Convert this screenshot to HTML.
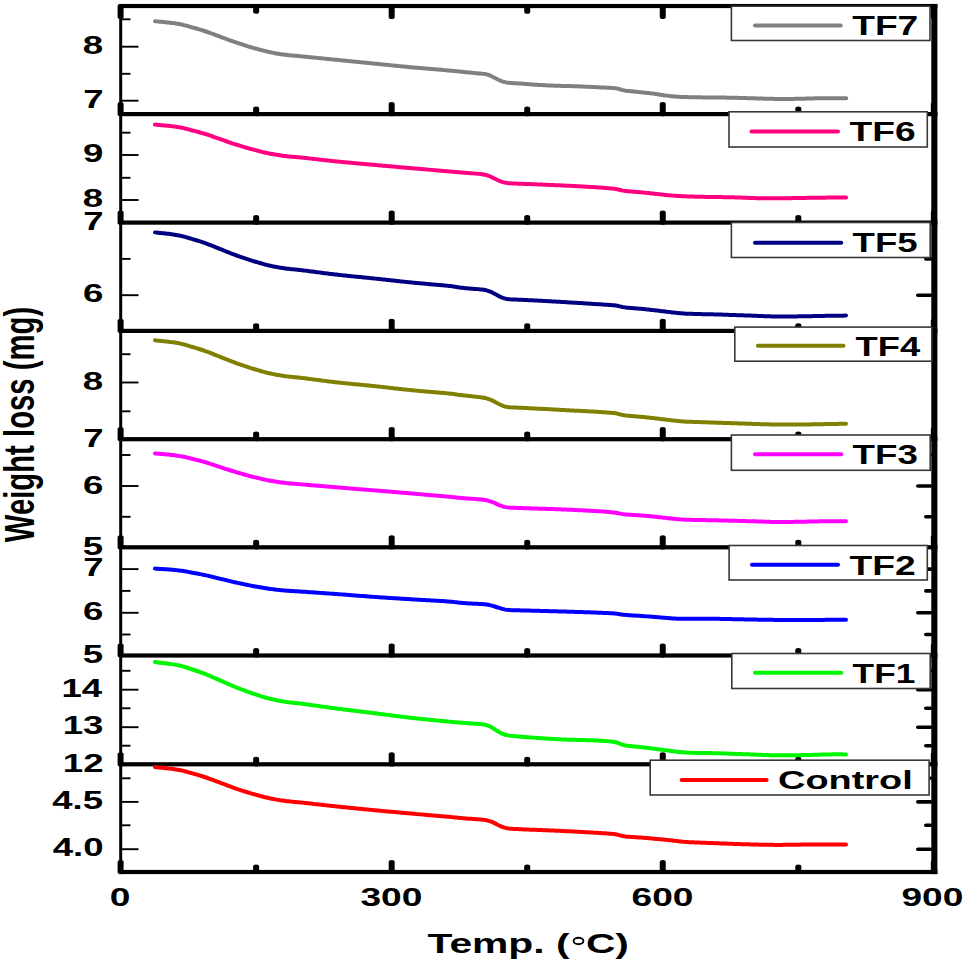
<!DOCTYPE html>
<html><head><meta charset="utf-8"><style>
html,body{margin:0;padding:0;background:#fff;}
svg{display:block;}
text{font-family:'Liberation Sans',sans-serif;font-weight:bold;}
</style></head><body>
<svg width="968" height="963" viewBox="0 0 968 963">
<rect width="968" height="963" fill="#fff"/>
<rect x="119.2" y="3.95" width="818.1999999999999" height="4.1499999999999995" fill="#000"/>
<rect x="119.2" y="112.00" width="818.1999999999999" height="4.2" fill="#000"/>
<rect x="119.2" y="220.50" width="818.1999999999999" height="4.2" fill="#000"/>
<rect x="119.2" y="328.80" width="818.1999999999999" height="4.2" fill="#000"/>
<rect x="119.2" y="437.10" width="818.1999999999999" height="4.2" fill="#000"/>
<rect x="119.2" y="545.20" width="818.1999999999999" height="4.2" fill="#000"/>
<rect x="119.2" y="653.40" width="818.1999999999999" height="4.2" fill="#000"/>
<rect x="119.2" y="762.20" width="818.1999999999999" height="4.2" fill="#000"/>
<rect x="119.2" y="869.90" width="818.1999999999999" height="4.2" fill="#000"/>
<rect x="119.2" y="3.95" width="3.0" height="870.15" fill="#000"/>
<rect x="931.3" y="3.95" width="6.100000000000023" height="870.15" fill="#000"/>
<rect x="117.60" y="3.95" width="6.0" height="15.15" rx="3" ry="2" fill="#000"/>
<rect x="117.60" y="102.00" width="6.0" height="14.20" rx="3" ry="2" fill="#000"/>
<rect x="117.60" y="210.50" width="6.0" height="14.20" rx="3" ry="2" fill="#000"/>
<rect x="117.60" y="318.80" width="6.0" height="14.20" rx="3" ry="2" fill="#000"/>
<rect x="117.60" y="427.10" width="6.0" height="14.20" rx="3" ry="2" fill="#000"/>
<rect x="117.60" y="535.20" width="6.0" height="14.20" rx="3" ry="2" fill="#000"/>
<rect x="117.60" y="643.40" width="6.0" height="14.20" rx="3" ry="2" fill="#000"/>
<rect x="117.60" y="752.20" width="6.0" height="14.20" rx="3" ry="2" fill="#000"/>
<rect x="117.60" y="859.90" width="6.0" height="14.20" rx="3" ry="2" fill="#000"/>
<rect x="253.14" y="3.95" width="6.0" height="9.75" rx="3" ry="2" fill="#000"/>
<rect x="253.14" y="106.50" width="6.0" height="9.70" rx="3" ry="2" fill="#000"/>
<rect x="253.14" y="215.00" width="6.0" height="9.70" rx="3" ry="2" fill="#000"/>
<rect x="253.14" y="323.30" width="6.0" height="9.70" rx="3" ry="2" fill="#000"/>
<rect x="253.14" y="431.60" width="6.0" height="9.70" rx="3" ry="2" fill="#000"/>
<rect x="253.14" y="539.70" width="6.0" height="9.70" rx="3" ry="2" fill="#000"/>
<rect x="253.14" y="647.90" width="6.0" height="9.70" rx="3" ry="2" fill="#000"/>
<rect x="253.14" y="756.70" width="6.0" height="9.70" rx="3" ry="2" fill="#000"/>
<rect x="253.14" y="864.40" width="6.0" height="9.70" rx="3" ry="2" fill="#000"/>
<rect x="388.68" y="3.95" width="6.0" height="15.15" rx="3" ry="2" fill="#000"/>
<rect x="388.68" y="102.00" width="6.0" height="14.20" rx="3" ry="2" fill="#000"/>
<rect x="388.68" y="210.50" width="6.0" height="14.20" rx="3" ry="2" fill="#000"/>
<rect x="388.68" y="318.80" width="6.0" height="14.20" rx="3" ry="2" fill="#000"/>
<rect x="388.68" y="427.10" width="6.0" height="14.20" rx="3" ry="2" fill="#000"/>
<rect x="388.68" y="535.20" width="6.0" height="14.20" rx="3" ry="2" fill="#000"/>
<rect x="388.68" y="643.40" width="6.0" height="14.20" rx="3" ry="2" fill="#000"/>
<rect x="388.68" y="752.20" width="6.0" height="14.20" rx="3" ry="2" fill="#000"/>
<rect x="388.68" y="859.90" width="6.0" height="14.20" rx="3" ry="2" fill="#000"/>
<rect x="524.22" y="3.95" width="6.0" height="9.75" rx="3" ry="2" fill="#000"/>
<rect x="524.22" y="106.50" width="6.0" height="9.70" rx="3" ry="2" fill="#000"/>
<rect x="524.22" y="215.00" width="6.0" height="9.70" rx="3" ry="2" fill="#000"/>
<rect x="524.22" y="323.30" width="6.0" height="9.70" rx="3" ry="2" fill="#000"/>
<rect x="524.22" y="431.60" width="6.0" height="9.70" rx="3" ry="2" fill="#000"/>
<rect x="524.22" y="539.70" width="6.0" height="9.70" rx="3" ry="2" fill="#000"/>
<rect x="524.22" y="647.90" width="6.0" height="9.70" rx="3" ry="2" fill="#000"/>
<rect x="524.22" y="756.70" width="6.0" height="9.70" rx="3" ry="2" fill="#000"/>
<rect x="524.22" y="864.40" width="6.0" height="9.70" rx="3" ry="2" fill="#000"/>
<rect x="659.76" y="3.95" width="6.0" height="15.15" rx="3" ry="2" fill="#000"/>
<rect x="659.76" y="102.00" width="6.0" height="14.20" rx="3" ry="2" fill="#000"/>
<rect x="659.76" y="210.50" width="6.0" height="14.20" rx="3" ry="2" fill="#000"/>
<rect x="659.76" y="318.80" width="6.0" height="14.20" rx="3" ry="2" fill="#000"/>
<rect x="659.76" y="427.10" width="6.0" height="14.20" rx="3" ry="2" fill="#000"/>
<rect x="659.76" y="535.20" width="6.0" height="14.20" rx="3" ry="2" fill="#000"/>
<rect x="659.76" y="643.40" width="6.0" height="14.20" rx="3" ry="2" fill="#000"/>
<rect x="659.76" y="752.20" width="6.0" height="14.20" rx="3" ry="2" fill="#000"/>
<rect x="659.76" y="859.90" width="6.0" height="14.20" rx="3" ry="2" fill="#000"/>
<rect x="795.30" y="3.95" width="6.0" height="9.75" rx="3" ry="2" fill="#000"/>
<rect x="795.30" y="106.50" width="6.0" height="9.70" rx="3" ry="2" fill="#000"/>
<rect x="795.30" y="215.00" width="6.0" height="9.70" rx="3" ry="2" fill="#000"/>
<rect x="795.30" y="323.30" width="6.0" height="9.70" rx="3" ry="2" fill="#000"/>
<rect x="795.30" y="431.60" width="6.0" height="9.70" rx="3" ry="2" fill="#000"/>
<rect x="795.30" y="539.70" width="6.0" height="9.70" rx="3" ry="2" fill="#000"/>
<rect x="795.30" y="647.90" width="6.0" height="9.70" rx="3" ry="2" fill="#000"/>
<rect x="795.30" y="756.70" width="6.0" height="9.70" rx="3" ry="2" fill="#000"/>
<rect x="795.30" y="864.40" width="6.0" height="9.70" rx="3" ry="2" fill="#000"/>
<rect x="930.84" y="3.95" width="6.0" height="15.15" rx="3" ry="2" fill="#000"/>
<rect x="930.84" y="102.00" width="6.0" height="14.20" rx="3" ry="2" fill="#000"/>
<rect x="930.84" y="210.50" width="6.0" height="14.20" rx="3" ry="2" fill="#000"/>
<rect x="930.84" y="318.80" width="6.0" height="14.20" rx="3" ry="2" fill="#000"/>
<rect x="930.84" y="427.10" width="6.0" height="14.20" rx="3" ry="2" fill="#000"/>
<rect x="930.84" y="535.20" width="6.0" height="14.20" rx="3" ry="2" fill="#000"/>
<rect x="930.84" y="643.40" width="6.0" height="14.20" rx="3" ry="2" fill="#000"/>
<rect x="930.84" y="752.20" width="6.0" height="14.20" rx="3" ry="2" fill="#000"/>
<rect x="930.84" y="859.90" width="6.0" height="14.20" rx="3" ry="2" fill="#000"/>
<rect x="121.7" y="18.35" width="8.80" height="1.9" fill="#000"/>
<rect x="121.7" y="45.75" width="16.80" height="1.9" fill="#000"/>
<rect x="121.7" y="72.85" width="8.80" height="1.9" fill="#000"/>
<rect x="121.7" y="99.75" width="16.80" height="1.9" fill="#000"/>
<rect x="121.7" y="131.75" width="8.80" height="1.9" fill="#000"/>
<rect x="121.7" y="154.05" width="16.80" height="1.9" fill="#000"/>
<rect x="121.7" y="176.85" width="8.80" height="1.9" fill="#000"/>
<rect x="121.7" y="199.05" width="16.80" height="1.9" fill="#000"/>
<rect x="121.7" y="257.95" width="8.80" height="1.9" fill="#000"/>
<rect x="924.00" y="257.10" width="8.30" height="3.6" rx="1.8" fill="#000"/>
<rect x="121.7" y="294.25" width="16.80" height="1.9" fill="#000"/>
<rect x="916.00" y="293.40" width="16.30" height="3.6" rx="1.8" fill="#000"/>
<rect x="121.7" y="353.25" width="8.80" height="1.9" fill="#000"/>
<rect x="121.7" y="381.55" width="16.80" height="1.9" fill="#000"/>
<rect x="121.7" y="410.35" width="8.80" height="1.9" fill="#000"/>
<rect x="121.7" y="454.05" width="8.80" height="1.9" fill="#000"/>
<rect x="924.00" y="453.20" width="8.30" height="3.6" rx="1.8" fill="#000"/>
<rect x="121.7" y="485.05" width="16.80" height="1.9" fill="#000"/>
<rect x="916.00" y="484.20" width="16.30" height="3.6" rx="1.8" fill="#000"/>
<rect x="121.7" y="515.85" width="8.80" height="1.9" fill="#000"/>
<rect x="924.00" y="515.00" width="8.30" height="3.6" rx="1.8" fill="#000"/>
<rect x="121.7" y="568.15" width="16.80" height="1.9" fill="#000"/>
<rect x="916.00" y="567.30" width="16.30" height="3.6" rx="1.8" fill="#000"/>
<rect x="121.7" y="589.95" width="8.80" height="1.9" fill="#000"/>
<rect x="924.00" y="589.10" width="8.30" height="3.6" rx="1.8" fill="#000"/>
<rect x="121.7" y="611.85" width="16.80" height="1.9" fill="#000"/>
<rect x="916.00" y="611.00" width="16.30" height="3.6" rx="1.8" fill="#000"/>
<rect x="121.7" y="633.55" width="8.80" height="1.9" fill="#000"/>
<rect x="924.00" y="632.70" width="8.30" height="3.6" rx="1.8" fill="#000"/>
<rect x="121.7" y="669.85" width="8.80" height="1.9" fill="#000"/>
<rect x="924.00" y="669.00" width="8.30" height="3.6" rx="1.8" fill="#000"/>
<rect x="121.7" y="688.75" width="16.80" height="1.9" fill="#000"/>
<rect x="916.00" y="687.90" width="16.30" height="3.6" rx="1.8" fill="#000"/>
<rect x="121.7" y="707.35" width="8.80" height="1.9" fill="#000"/>
<rect x="924.00" y="706.50" width="8.30" height="3.6" rx="1.8" fill="#000"/>
<rect x="121.7" y="726.25" width="16.80" height="1.9" fill="#000"/>
<rect x="916.00" y="725.40" width="16.30" height="3.6" rx="1.8" fill="#000"/>
<rect x="121.7" y="744.75" width="8.80" height="1.9" fill="#000"/>
<rect x="924.00" y="743.90" width="8.30" height="3.6" rx="1.8" fill="#000"/>
<rect x="121.7" y="777.35" width="8.80" height="1.9" fill="#000"/>
<rect x="924.00" y="776.50" width="8.30" height="3.6" rx="1.8" fill="#000"/>
<rect x="121.7" y="800.95" width="16.80" height="1.9" fill="#000"/>
<rect x="916.00" y="800.10" width="16.30" height="3.6" rx="1.8" fill="#000"/>
<rect x="121.7" y="824.35" width="8.80" height="1.9" fill="#000"/>
<rect x="924.00" y="823.50" width="8.30" height="3.6" rx="1.8" fill="#000"/>
<rect x="121.7" y="848.25" width="16.80" height="1.9" fill="#000"/>
<rect x="916.00" y="847.40" width="16.30" height="3.6" rx="1.8" fill="#000"/>
<text transform="translate(82.80,54.00) scale(1.3800,1)" font-size="26.5" style="font-family:'Liberation Sans',sans-serif;font-weight:bold">8</text>
<text transform="translate(83.28,108.30) scale(1.3800,1)" font-size="26.5" style="font-family:'Liberation Sans',sans-serif;font-weight:bold">7</text>
<text transform="translate(83.02,162.20) scale(1.3800,1)" font-size="26.5" style="font-family:'Liberation Sans',sans-serif;font-weight:bold">9</text>
<text transform="translate(82.80,207.00) scale(1.3800,1)" font-size="26.5" style="font-family:'Liberation Sans',sans-serif;font-weight:bold">8</text>
<text transform="translate(83.28,230.40) scale(1.3800,1)" font-size="26.5" style="font-family:'Liberation Sans',sans-serif;font-weight:bold">7</text>
<text transform="translate(82.98,302.30) scale(1.3800,1)" font-size="26.5" style="font-family:'Liberation Sans',sans-serif;font-weight:bold">6</text>
<text transform="translate(82.80,390.30) scale(1.3800,1)" font-size="26.5" style="font-family:'Liberation Sans',sans-serif;font-weight:bold">8</text>
<text transform="translate(83.28,446.50) scale(1.3800,1)" font-size="26.5" style="font-family:'Liberation Sans',sans-serif;font-weight:bold">7</text>
<text transform="translate(82.98,493.80) scale(1.3800,1)" font-size="26.5" style="font-family:'Liberation Sans',sans-serif;font-weight:bold">6</text>
<text transform="translate(82.69,555.20) scale(1.3800,1)" font-size="26.5" style="font-family:'Liberation Sans',sans-serif;font-weight:bold">5</text>
<text transform="translate(83.28,576.30) scale(1.3800,1)" font-size="26.5" style="font-family:'Liberation Sans',sans-serif;font-weight:bold">7</text>
<text transform="translate(82.98,619.80) scale(1.3800,1)" font-size="26.5" style="font-family:'Liberation Sans',sans-serif;font-weight:bold">6</text>
<text transform="translate(82.69,663.40) scale(1.3800,1)" font-size="26.5" style="font-family:'Liberation Sans',sans-serif;font-weight:bold">5</text>
<text transform="translate(61.52,696.70) scale(1.3800,1)" font-size="26.5" style="font-family:'Liberation Sans',sans-serif;font-weight:bold">14</text>
<text transform="translate(62.65,733.60) scale(1.3800,1)" font-size="26.5" style="font-family:'Liberation Sans',sans-serif;font-weight:bold">13</text>
<text transform="translate(62.80,771.60) scale(1.3800,1)" font-size="26.5" style="font-family:'Liberation Sans',sans-serif;font-weight:bold">12</text>
<text transform="translate(52.19,809.40) scale(1.3800,1)" font-size="26.5" style="font-family:'Liberation Sans',sans-serif;font-weight:bold">4.5</text>
<text transform="translate(52.67,855.90) scale(1.3800,1)" font-size="26.5" style="font-family:'Liberation Sans',sans-serif;font-weight:bold">4.0</text>
<text transform="translate(109.70,906.00) scale(1.4000,1)" font-size="26.5" style="font-family:'Liberation Sans',sans-serif;font-weight:bold">0</text>
<text transform="translate(360.39,906.00) scale(1.4000,1)" font-size="26.5" style="font-family:'Liberation Sans',sans-serif;font-weight:bold">300</text>
<text transform="translate(631.53,906.00) scale(1.4000,1)" font-size="26.5" style="font-family:'Liberation Sans',sans-serif;font-weight:bold">600</text>
<text transform="translate(901.47,906.00) scale(1.4000,1)" font-size="26.5" style="font-family:'Liberation Sans',sans-serif;font-weight:bold">900</text>
<text transform="translate(427.55,952.70) scale(1.5107,1)" font-size="27.0" fill="#000" style="font-family:'Liberation Sans',sans-serif;font-weight:bold">Temp. (</text>
<text transform="translate(585.93,952.70) scale(1.5099,1)" font-size="27.0" fill="#000" style="font-family:'Liberation Sans',sans-serif;font-weight:bold">C)</text>
<ellipse cx="578.5" cy="941.0" rx="4.9" ry="3.2" fill="none" stroke="#000" stroke-width="1.9"/>
<text transform="translate(34.30,542.23) rotate(-90) scale(1.0281,1.4943)" font-size="28.5" style="font-family:'Liberation Sans',sans-serif;font-weight:bold">Weight loss (mg)</text>
<path d="M155.0,21.19 L156.5,21.37 L158.0,21.53 L159.5,21.68 L161.0,21.82 L162.5,21.96 L164.0,22.09 L165.5,22.23 L167.0,22.39 L168.5,22.55 L170.0,22.72 L171.5,22.91 L173.0,23.10 L174.5,23.32 L176.0,23.54 L177.5,23.79 L179.0,24.05 L180.5,24.33 L182.0,24.64 L183.5,24.99 L185.0,25.36 L186.5,25.77 L188.0,26.19 L189.5,26.62 L191.0,27.05 L192.5,27.47 L194.0,27.88 L195.5,28.30 L197.0,28.72 L198.5,29.14 L200.0,29.58 L201.5,30.04 L203.0,30.51 L204.5,30.99 L206.0,31.49 L207.5,32.00 L209.0,32.53 L210.5,33.08 L212.0,33.63 L213.5,34.20 L215.0,34.77 L216.5,35.33 L218.0,35.89 L219.5,36.45 L221.0,37.01 L222.5,37.57 L224.0,38.13 L225.5,38.69 L227.0,39.25 L228.5,39.81 L230.0,40.36 L231.5,40.91 L233.0,41.44 L234.5,41.96 L236.0,42.47 L237.5,42.96 L239.0,43.46 L240.5,43.94 L242.0,44.44 L243.5,44.93 L245.0,45.42 L246.5,45.90 L248.0,46.37 L249.5,46.83 L251.0,47.27 L252.5,47.69 L254.0,48.09 L255.5,48.50 L257.0,48.90 L258.5,49.31 L260.0,49.72 L261.5,50.14 L263.0,50.54 L264.5,50.94 L266.0,51.31 L267.5,51.65 L269.0,51.98 L270.5,52.29 L272.0,52.59 L273.5,52.88 L275.0,53.16 L276.5,53.44 L278.0,53.71 L279.5,53.96 L281.0,54.18 L282.5,54.40 L284.0,54.60 L285.5,54.79 L287.0,54.97 L288.5,55.15 L290.0,55.31 L291.5,55.45 L293.0,55.58 L294.5,55.71 L296.0,55.84 L297.5,55.97 L299.0,56.11 L300.5,56.25 L302.0,56.40 L303.5,56.54 L305.0,56.69 L306.5,56.84 L308.0,56.99 L309.5,57.14 L311.0,57.29 L312.5,57.43 L314.0,57.58 L315.5,57.73 L317.0,57.88 L318.5,58.03 L320.0,58.18 L321.5,58.33 L323.0,58.48 L324.5,58.63 L326.0,58.78 L327.5,58.93 L329.0,59.08 L330.5,59.23 L332.0,59.38 L333.5,59.53 L335.0,59.68 L336.5,59.83 L338.0,59.98 L339.5,60.13 L341.0,60.28 L342.5,60.43 L344.0,60.58 L345.5,60.73 L347.0,60.87 L348.5,61.02 L350.0,61.17 L351.5,61.32 L353.0,61.47 L354.5,61.62 L356.0,61.77 L357.5,61.92 L359.0,62.07 L360.5,62.22 L362.0,62.37 L363.5,62.52 L365.0,62.67 L366.5,62.81 L368.0,62.96 L369.5,63.11 L371.0,63.26 L372.5,63.41 L374.0,63.56 L375.5,63.71 L377.0,63.86 L378.5,64.01 L380.0,64.16 L381.5,64.31 L383.0,64.47 L384.5,64.62 L386.0,64.77 L387.5,64.92 L389.0,65.08 L390.5,65.23 L392.0,65.38 L393.5,65.53 L395.0,65.68 L396.5,65.83 L398.0,65.98 L399.5,66.13 L401.0,66.28 L402.5,66.43 L404.0,66.57 L405.5,66.72 L407.0,66.86 L408.5,67.01 L410.0,67.15 L411.5,67.29 L413.0,67.43 L414.5,67.56 L416.0,67.70 L417.5,67.83 L419.0,67.96 L420.5,68.09 L422.0,68.22 L423.5,68.35 L425.0,68.48 L426.5,68.60 L428.0,68.73 L429.5,68.86 L431.0,68.98 L432.5,69.11 L434.0,69.23 L435.5,69.36 L437.0,69.48 L438.5,69.61 L440.0,69.74 L441.5,69.86 L443.0,69.99 L444.5,70.12 L446.0,70.25 L447.5,70.39 L449.0,70.52 L450.5,70.66 L452.0,70.80 L453.5,70.94 L455.0,71.09 L456.5,71.23 L458.0,71.38 L459.5,71.53 L461.0,71.69 L462.5,71.84 L464.0,71.99 L465.5,72.15 L467.0,72.30 L468.5,72.45 L470.0,72.59 L471.5,72.74 L473.0,72.87 L474.5,73.01 L476.0,73.14 L477.5,73.27 L479.0,73.41 L480.5,73.55 L482.0,73.70 L483.5,73.87 L485.0,74.08 L486.5,74.37 L488.0,74.76 L489.5,75.29 L491.0,75.94 L492.5,76.68 L494.0,77.47 L495.5,78.26 L497.0,79.04 L498.5,79.78 L500.0,80.47 L501.5,81.08 L503.0,81.60 L504.5,82.04 L506.0,82.38 L507.5,82.65 L509.0,82.83 L510.5,82.97 L512.0,83.08 L513.5,83.17 L515.0,83.25 L516.5,83.34 L518.0,83.42 L519.5,83.51 L521.0,83.61 L522.5,83.71 L524.0,83.82 L525.5,83.95 L527.0,84.07 L528.5,84.21 L530.0,84.34 L531.5,84.47 L533.0,84.58 L534.5,84.69 L536.0,84.79 L537.5,84.87 L539.0,84.95 L540.5,85.02 L542.0,85.10 L543.5,85.17 L545.0,85.24 L546.5,85.32 L548.0,85.38 L549.5,85.45 L551.0,85.52 L552.5,85.58 L554.0,85.63 L555.5,85.69 L557.0,85.74 L558.5,85.79 L560.0,85.83 L561.5,85.88 L563.0,85.92 L564.5,85.96 L566.0,86.00 L567.5,86.04 L569.0,86.08 L570.5,86.12 L572.0,86.16 L573.5,86.20 L575.0,86.25 L576.5,86.29 L578.0,86.34 L579.5,86.39 L581.0,86.44 L582.5,86.50 L584.0,86.57 L585.5,86.64 L587.0,86.71 L588.5,86.79 L590.0,86.87 L591.5,86.95 L593.0,87.02 L594.5,87.10 L596.0,87.17 L597.5,87.24 L599.0,87.31 L600.5,87.38 L602.0,87.45 L603.5,87.53 L605.0,87.61 L606.5,87.68 L608.0,87.75 L609.5,87.82 L611.0,87.90 L612.5,88.00 L614.0,88.12 L615.5,88.28 L617.0,88.53 L618.5,88.86 L620.0,89.29 L621.5,89.75 L623.0,90.17 L624.5,90.51 L626.0,90.75 L627.5,90.92 L629.0,91.07 L630.5,91.21 L632.0,91.35 L633.5,91.50 L635.0,91.66 L636.5,91.82 L638.0,91.97 L639.5,92.13 L641.0,92.29 L642.5,92.45 L644.0,92.61 L645.5,92.77 L647.0,92.94 L648.5,93.10 L650.0,93.27 L651.5,93.45 L653.0,93.64 L654.5,93.84 L656.0,94.05 L657.5,94.27 L659.0,94.51 L660.5,94.75 L662.0,94.99 L663.5,95.22 L665.0,95.44 L666.5,95.64 L668.0,95.82 L669.5,95.99 L671.0,96.14 L672.5,96.28 L674.0,96.41 L675.5,96.53 L677.0,96.64 L678.5,96.74 L680.0,96.83 L681.5,96.90 L683.0,96.97 L684.5,97.02 L686.0,97.07 L687.5,97.11 L689.0,97.14 L690.5,97.18 L692.0,97.21 L693.5,97.24 L695.0,97.27 L696.5,97.30 L698.0,97.32 L699.5,97.35 L701.0,97.37 L702.5,97.40 L704.0,97.42 L705.5,97.44 L707.0,97.46 L708.5,97.48 L710.0,97.50 L711.5,97.51 L713.0,97.53 L714.5,97.54 L716.0,97.55 L717.5,97.56 L719.0,97.57 L720.5,97.58 L722.0,97.59 L723.5,97.60 L725.0,97.61 L726.5,97.63 L728.0,97.65 L729.5,97.67 L731.0,97.70 L732.5,97.73 L734.0,97.76 L735.5,97.80 L737.0,97.84 L738.5,97.88 L740.0,97.92 L741.5,97.97 L743.0,98.01 L744.5,98.06 L746.0,98.10 L747.5,98.15 L749.0,98.19 L750.5,98.24 L752.0,98.28 L753.5,98.33 L755.0,98.37 L756.5,98.41 L758.0,98.45 L759.5,98.50 L761.0,98.54 L762.5,98.58 L764.0,98.63 L765.5,98.67 L767.0,98.71 L768.5,98.75 L770.0,98.79 L771.5,98.83 L773.0,98.87 L774.5,98.90 L776.0,98.93 L777.5,98.95 L779.0,98.97 L780.5,98.99 L782.0,99.00 L783.5,99.00 L785.0,99.00 L786.5,98.99 L788.0,98.97 L789.5,98.95 L791.0,98.93 L792.5,98.91 L794.0,98.88 L795.5,98.85 L797.0,98.81 L798.5,98.78 L800.0,98.75 L801.5,98.72 L803.0,98.68 L804.5,98.65 L806.0,98.61 L807.5,98.57 L809.0,98.53 L810.5,98.48 L812.0,98.44 L813.5,98.39 L815.0,98.35 L816.5,98.31 L818.0,98.28 L819.5,98.25 L821.0,98.22 L822.5,98.20 L824.0,98.19 L825.5,98.18 L827.0,98.17 L828.5,98.17 L830.0,98.17 L831.5,98.17 L833.0,98.17 L834.5,98.17 L836.0,98.17 L837.5,98.17 L839.0,98.18 L840.5,98.18 L842.0,98.19 L843.5,98.19 L845.0,98.20 L846.2,98.20" fill="none" stroke="#808080" stroke-width="4.0" stroke-linecap="round" stroke-linejoin="round"/>
<path d="M155.0,124.59 L156.5,124.76 L158.0,124.91 L159.5,125.05 L161.0,125.18 L162.5,125.31 L164.0,125.43 L165.5,125.57 L167.0,125.71 L168.5,125.86 L170.0,126.02 L171.5,126.20 L173.0,126.38 L174.5,126.58 L176.0,126.79 L177.5,127.02 L179.0,127.26 L180.5,127.53 L182.0,127.83 L183.5,128.15 L185.0,128.50 L186.5,128.88 L188.0,129.28 L189.5,129.68 L191.0,130.08 L192.5,130.48 L194.0,130.87 L195.5,131.26 L197.0,131.65 L198.5,132.05 L200.0,132.46 L201.5,132.89 L203.0,133.32 L204.5,133.78 L206.0,134.24 L207.5,134.72 L209.0,135.22 L210.5,135.73 L212.0,136.25 L213.5,136.78 L215.0,137.31 L216.5,137.84 L218.0,138.37 L219.5,138.90 L221.0,139.42 L222.5,139.94 L224.0,140.46 L225.5,140.99 L227.0,141.51 L228.5,142.04 L230.0,142.56 L231.5,143.07 L233.0,143.57 L234.5,144.05 L236.0,144.53 L237.5,144.99 L239.0,145.45 L240.5,145.91 L242.0,146.37 L243.5,146.83 L245.0,147.30 L246.5,147.75 L248.0,148.19 L249.5,148.62 L251.0,149.03 L252.5,149.42 L254.0,149.80 L255.5,150.18 L257.0,150.56 L258.5,150.94 L260.0,151.32 L261.5,151.71 L263.0,152.09 L264.5,152.46 L266.0,152.81 L267.5,153.14 L269.0,153.44 L270.5,153.73 L272.0,154.01 L273.5,154.29 L275.0,154.56 L276.5,154.82 L278.0,155.07 L279.5,155.30 L281.0,155.51 L282.5,155.71 L284.0,155.90 L285.5,156.08 L287.0,156.25 L288.5,156.41 L290.0,156.55 L291.5,156.68 L293.0,156.79 L294.5,156.91 L296.0,157.03 L297.5,157.16 L299.0,157.31 L300.5,157.46 L302.0,157.62 L303.5,157.78 L305.0,157.95 L306.5,158.11 L308.0,158.28 L309.5,158.45 L311.0,158.62 L312.5,158.79 L314.0,158.96 L315.5,159.13 L317.0,159.30 L318.5,159.47 L320.0,159.64 L321.5,159.81 L323.0,159.97 L324.5,160.14 L326.0,160.31 L327.5,160.47 L329.0,160.63 L330.5,160.80 L332.0,160.96 L333.5,161.12 L335.0,161.27 L336.5,161.43 L338.0,161.58 L339.5,161.73 L341.0,161.87 L342.5,162.02 L344.0,162.16 L345.5,162.31 L347.0,162.45 L348.5,162.59 L350.0,162.72 L351.5,162.86 L353.0,163.00 L354.5,163.13 L356.0,163.27 L357.5,163.40 L359.0,163.53 L360.5,163.67 L362.0,163.80 L363.5,163.93 L365.0,164.06 L366.5,164.20 L368.0,164.33 L369.5,164.46 L371.0,164.60 L372.5,164.73 L374.0,164.86 L375.5,165.00 L377.0,165.13 L378.5,165.27 L380.0,165.40 L381.5,165.54 L383.0,165.67 L384.5,165.81 L386.0,165.94 L387.5,166.07 L389.0,166.21 L390.5,166.34 L392.0,166.47 L393.5,166.61 L395.0,166.74 L396.5,166.87 L398.0,167.00 L399.5,167.14 L401.0,167.27 L402.5,167.40 L404.0,167.53 L405.5,167.67 L407.0,167.80 L408.5,167.93 L410.0,168.06 L411.5,168.19 L413.0,168.32 L414.5,168.45 L416.0,168.58 L417.5,168.71 L419.0,168.84 L420.5,168.97 L422.0,169.10 L423.5,169.23 L425.0,169.36 L426.5,169.49 L428.0,169.62 L429.5,169.74 L431.0,169.87 L432.5,170.00 L434.0,170.13 L435.5,170.26 L437.0,170.39 L438.5,170.51 L440.0,170.64 L441.5,170.77 L443.0,170.90 L444.5,171.03 L446.0,171.16 L447.5,171.29 L449.0,171.42 L450.5,171.55 L452.0,171.68 L453.5,171.82 L455.0,171.95 L456.5,172.09 L458.0,172.22 L459.5,172.35 L461.0,172.47 L462.5,172.58 L464.0,172.70 L465.5,172.80 L467.0,172.91 L468.5,173.02 L470.0,173.14 L471.5,173.26 L473.0,173.38 L474.5,173.50 L476.0,173.62 L477.5,173.75 L479.0,173.88 L480.5,174.04 L482.0,174.23 L483.5,174.47 L485.0,174.77 L486.5,175.17 L488.0,175.66 L489.5,176.24 L491.0,176.89 L492.5,177.58 L494.0,178.31 L495.5,179.05 L497.0,179.79 L498.5,180.48 L500.0,181.12 L501.5,181.68 L503.0,182.16 L504.5,182.55 L506.0,182.85 L507.5,183.07 L509.0,183.23 L510.5,183.35 L512.0,183.43 L513.5,183.50 L515.0,183.55 L516.5,183.60 L518.0,183.65 L519.5,183.71 L521.0,183.76 L522.5,183.82 L524.0,183.88 L525.5,183.94 L527.0,184.00 L528.5,184.06 L530.0,184.12 L531.5,184.17 L533.0,184.23 L534.5,184.29 L536.0,184.35 L537.5,184.40 L539.0,184.46 L540.5,184.52 L542.0,184.58 L543.5,184.64 L545.0,184.70 L546.5,184.76 L548.0,184.82 L549.5,184.88 L551.0,184.94 L552.5,185.00 L554.0,185.07 L555.5,185.13 L557.0,185.20 L558.5,185.27 L560.0,185.34 L561.5,185.41 L563.0,185.48 L564.5,185.55 L566.0,185.63 L567.5,185.70 L569.0,185.78 L570.5,185.85 L572.0,185.93 L573.5,186.01 L575.0,186.08 L576.5,186.16 L578.0,186.24 L579.5,186.32 L581.0,186.40 L582.5,186.48 L584.0,186.57 L585.5,186.65 L587.0,186.74 L588.5,186.82 L590.0,186.91 L591.5,187.00 L593.0,187.09 L594.5,187.18 L596.0,187.28 L597.5,187.38 L599.0,187.48 L600.5,187.58 L602.0,187.69 L603.5,187.80 L605.0,187.91 L606.5,188.03 L608.0,188.16 L609.5,188.29 L611.0,188.44 L612.5,188.59 L614.0,188.77 L615.5,188.98 L617.0,189.25 L618.5,189.57 L620.0,189.94 L621.5,190.30 L623.0,190.61 L624.5,190.85 L626.0,191.04 L627.5,191.20 L629.0,191.34 L630.5,191.47 L632.0,191.60 L633.5,191.72 L635.0,191.85 L636.5,191.97 L638.0,192.09 L639.5,192.22 L641.0,192.35 L642.5,192.48 L644.0,192.62 L645.5,192.76 L647.0,192.91 L648.5,193.06 L650.0,193.22 L651.5,193.39 L653.0,193.55 L654.5,193.72 L656.0,193.89 L657.5,194.06 L659.0,194.23 L660.5,194.40 L662.0,194.57 L663.5,194.73 L665.0,194.90 L666.5,195.06 L668.0,195.22 L669.5,195.36 L671.0,195.50 L672.5,195.63 L674.0,195.75 L675.5,195.85 L677.0,195.94 L678.5,196.01 L680.0,196.08 L681.5,196.14 L683.0,196.20 L684.5,196.26 L686.0,196.32 L687.5,196.38 L689.0,196.44 L690.5,196.49 L692.0,196.54 L693.5,196.59 L695.0,196.64 L696.5,196.68 L698.0,196.72 L699.5,196.76 L701.0,196.79 L702.5,196.82 L704.0,196.85 L705.5,196.88 L707.0,196.90 L708.5,196.93 L710.0,196.95 L711.5,196.97 L713.0,196.99 L714.5,197.01 L716.0,197.03 L717.5,197.05 L719.0,197.07 L720.5,197.09 L722.0,197.11 L723.5,197.13 L725.0,197.15 L726.5,197.18 L728.0,197.21 L729.5,197.23 L731.0,197.27 L732.5,197.30 L734.0,197.34 L735.5,197.38 L737.0,197.43 L738.5,197.48 L740.0,197.54 L741.5,197.59 L743.0,197.65 L744.5,197.71 L746.0,197.77 L747.5,197.83 L749.0,197.89 L750.5,197.95 L752.0,198.00 L753.5,198.05 L755.0,198.10 L756.5,198.14 L758.0,198.17 L759.5,198.20 L761.0,198.22 L762.5,198.24 L764.0,198.26 L765.5,198.27 L767.0,198.27 L768.5,198.28 L770.0,198.28 L771.5,198.28 L773.0,198.28 L774.5,198.27 L776.0,198.26 L777.5,198.26 L779.0,198.25 L780.5,198.24 L782.0,198.23 L783.5,198.21 L785.0,198.20 L786.5,198.19 L788.0,198.17 L789.5,198.16 L791.0,198.14 L792.5,198.12 L794.0,198.09 L795.5,198.07 L797.0,198.04 L798.5,198.02 L800.0,197.99 L801.5,197.97 L803.0,197.94 L804.5,197.91 L806.0,197.89 L807.5,197.86 L809.0,197.84 L810.5,197.82 L812.0,197.80 L813.5,197.78 L815.0,197.76 L816.5,197.74 L818.0,197.72 L819.5,197.70 L821.0,197.68 L822.5,197.66 L824.0,197.64 L825.5,197.63 L827.0,197.61 L828.5,197.59 L830.0,197.57 L831.5,197.56 L833.0,197.54 L834.5,197.53 L836.0,197.52 L837.5,197.51 L839.0,197.51 L840.5,197.51 L842.0,197.52 L843.5,197.55 L845.0,197.58 L846.0,197.60" fill="none" stroke="#FF0080" stroke-width="4.0" stroke-linecap="round" stroke-linejoin="round"/>
<path d="M155.0,232.39 L156.5,232.58 L158.0,232.75 L159.5,232.91 L161.0,233.06 L162.5,233.21 L164.0,233.35 L165.5,233.51 L167.0,233.67 L168.5,233.84 L170.0,234.03 L171.5,234.23 L173.0,234.44 L174.5,234.67 L176.0,234.91 L177.5,235.17 L179.0,235.45 L180.5,235.76 L182.0,236.10 L183.5,236.47 L185.0,236.87 L186.5,237.31 L188.0,237.76 L189.5,238.22 L191.0,238.68 L192.5,239.14 L194.0,239.58 L195.5,240.03 L197.0,240.48 L198.5,240.94 L200.0,241.41 L201.5,241.90 L203.0,242.40 L204.5,242.92 L206.0,243.46 L207.5,244.01 L209.0,244.57 L210.5,245.16 L212.0,245.76 L213.5,246.36 L215.0,246.97 L216.5,247.58 L218.0,248.19 L219.5,248.79 L221.0,249.39 L222.5,249.98 L224.0,250.58 L225.5,251.19 L227.0,251.79 L228.5,252.39 L230.0,252.99 L231.5,253.57 L233.0,254.15 L234.5,254.70 L236.0,255.25 L237.5,255.78 L239.0,256.30 L240.5,256.83 L242.0,257.36 L243.5,257.88 L245.0,258.41 L246.5,258.94 L248.0,259.44 L249.5,259.93 L251.0,260.40 L252.5,260.85 L254.0,261.29 L255.5,261.72 L257.0,262.15 L258.5,262.59 L260.0,263.04 L261.5,263.48 L263.0,263.92 L264.5,264.34 L266.0,264.74 L267.5,265.12 L269.0,265.47 L270.5,265.80 L272.0,266.12 L273.5,266.44 L275.0,266.74 L276.5,267.05 L278.0,267.33 L279.5,267.60 L281.0,267.84 L282.5,268.07 L284.0,268.28 L285.5,268.49 L287.0,268.68 L288.5,268.86 L290.0,269.03 L291.5,269.17 L293.0,269.31 L294.5,269.44 L296.0,269.58 L297.5,269.73 L299.0,269.89 L300.5,270.07 L302.0,270.25 L303.5,270.44 L305.0,270.63 L306.5,270.82 L308.0,271.01 L309.5,271.21 L311.0,271.40 L312.5,271.60 L314.0,271.79 L315.5,271.99 L317.0,272.18 L318.5,272.38 L320.0,272.57 L321.5,272.77 L323.0,272.96 L324.5,273.15 L326.0,273.34 L327.5,273.53 L329.0,273.71 L330.5,273.90 L332.0,274.08 L333.5,274.26 L335.0,274.44 L336.5,274.61 L338.0,274.79 L339.5,274.95 L341.0,275.12 L342.5,275.28 L344.0,275.44 L345.5,275.60 L347.0,275.76 L348.5,275.91 L350.0,276.06 L351.5,276.22 L353.0,276.37 L354.5,276.51 L356.0,276.66 L357.5,276.81 L359.0,276.96 L360.5,277.10 L362.0,277.25 L363.5,277.40 L365.0,277.55 L366.5,277.70 L368.0,277.85 L369.5,278.00 L371.0,278.15 L372.5,278.30 L374.0,278.46 L375.5,278.62 L377.0,278.78 L378.5,278.94 L380.0,279.10 L381.5,279.26 L383.0,279.42 L384.5,279.59 L386.0,279.75 L387.5,279.92 L389.0,280.08 L390.5,280.25 L392.0,280.41 L393.5,280.58 L395.0,280.74 L396.5,280.91 L398.0,281.07 L399.5,281.23 L401.0,281.40 L402.5,281.56 L404.0,281.72 L405.5,281.87 L407.0,282.03 L408.5,282.18 L410.0,282.34 L411.5,282.49 L413.0,282.63 L414.5,282.78 L416.0,282.92 L417.5,283.06 L419.0,283.20 L420.5,283.34 L422.0,283.47 L423.5,283.61 L425.0,283.74 L426.5,283.88 L428.0,284.01 L429.5,284.14 L431.0,284.27 L432.5,284.40 L434.0,284.53 L435.5,284.67 L437.0,284.80 L438.5,284.93 L440.0,285.07 L441.5,285.20 L443.0,285.34 L444.5,285.48 L446.0,285.63 L447.5,285.78 L449.0,285.94 L450.5,286.11 L452.0,286.30 L453.5,286.52 L455.0,286.75 L456.5,287.00 L458.0,287.25 L459.5,287.48 L461.0,287.68 L462.5,287.85 L464.0,288.00 L465.5,288.14 L467.0,288.27 L468.5,288.40 L470.0,288.53 L471.5,288.65 L473.0,288.78 L474.5,288.90 L476.0,289.01 L477.5,289.13 L479.0,289.26 L480.5,289.40 L482.0,289.57 L483.5,289.78 L485.0,290.05 L486.5,290.39 L488.0,290.82 L489.5,291.35 L491.0,291.96 L492.5,292.66 L494.0,293.43 L495.5,294.25 L497.0,295.08 L498.5,295.89 L500.0,296.65 L501.5,297.33 L503.0,297.92 L504.5,298.40 L506.0,298.77 L507.5,299.04 L509.0,299.23 L510.5,299.35 L512.0,299.43 L513.5,299.49 L515.0,299.54 L516.5,299.58 L518.0,299.64 L519.5,299.69 L521.0,299.76 L522.5,299.83 L524.0,299.91 L525.5,299.98 L527.0,300.06 L528.5,300.14 L530.0,300.22 L531.5,300.29 L533.0,300.37 L534.5,300.45 L536.0,300.53 L537.5,300.61 L539.0,300.69 L540.5,300.77 L542.0,300.85 L543.5,300.93 L545.0,301.01 L546.5,301.09 L548.0,301.17 L549.5,301.26 L551.0,301.34 L552.5,301.42 L554.0,301.51 L555.5,301.59 L557.0,301.67 L558.5,301.76 L560.0,301.85 L561.5,301.93 L563.0,302.02 L564.5,302.11 L566.0,302.20 L567.5,302.29 L569.0,302.38 L570.5,302.47 L572.0,302.56 L573.5,302.66 L575.0,302.75 L576.5,302.84 L578.0,302.93 L579.5,303.03 L581.0,303.12 L582.5,303.21 L584.0,303.31 L585.5,303.40 L587.0,303.50 L588.5,303.59 L590.0,303.69 L591.5,303.78 L593.0,303.88 L594.5,303.98 L596.0,304.07 L597.5,304.17 L599.0,304.26 L600.5,304.36 L602.0,304.45 L603.5,304.54 L605.0,304.64 L606.5,304.73 L608.0,304.83 L609.5,304.93 L611.0,305.04 L612.5,305.16 L614.0,305.31 L615.5,305.50 L617.0,305.75 L618.5,306.07 L620.0,306.43 L621.5,306.79 L623.0,307.10 L624.5,307.34 L626.0,307.54 L627.5,307.69 L629.0,307.83 L630.5,307.97 L632.0,308.09 L633.5,308.21 L635.0,308.33 L636.5,308.46 L638.0,308.58 L639.5,308.71 L641.0,308.84 L642.5,308.97 L644.0,309.11 L645.5,309.26 L647.0,309.41 L648.5,309.57 L650.0,309.74 L651.5,309.91 L653.0,310.08 L654.5,310.26 L656.0,310.43 L657.5,310.61 L659.0,310.79 L660.5,310.97 L662.0,311.15 L663.5,311.33 L665.0,311.51 L666.5,311.69 L668.0,311.87 L669.5,312.05 L671.0,312.22 L672.5,312.40 L674.0,312.58 L675.5,312.75 L677.0,312.92 L678.5,313.08 L680.0,313.23 L681.5,313.35 L683.0,313.46 L684.5,313.56 L686.0,313.64 L687.5,313.71 L689.0,313.77 L690.5,313.83 L692.0,313.87 L693.5,313.92 L695.0,313.96 L696.5,314.00 L698.0,314.04 L699.5,314.08 L701.0,314.12 L702.5,314.15 L704.0,314.18 L705.5,314.20 L707.0,314.22 L708.5,314.25 L710.0,314.28 L711.5,314.31 L713.0,314.35 L714.5,314.39 L716.0,314.43 L717.5,314.48 L719.0,314.52 L720.5,314.57 L722.0,314.62 L723.5,314.67 L725.0,314.72 L726.5,314.77 L728.0,314.83 L729.5,314.88 L731.0,314.93 L732.5,314.98 L734.0,315.03 L735.5,315.09 L737.0,315.14 L738.5,315.19 L740.0,315.24 L741.5,315.30 L743.0,315.35 L744.5,315.40 L746.0,315.45 L747.5,315.51 L749.0,315.56 L750.5,315.61 L752.0,315.67 L753.5,315.72 L755.0,315.78 L756.5,315.84 L758.0,315.90 L759.5,315.96 L761.0,316.02 L762.5,316.08 L764.0,316.14 L765.5,316.19 L767.0,316.25 L768.5,316.30 L770.0,316.35 L771.5,316.39 L773.0,316.43 L774.5,316.46 L776.0,316.48 L777.5,316.50 L779.0,316.52 L780.5,316.53 L782.0,316.53 L783.5,316.53 L785.0,316.52 L786.5,316.51 L788.0,316.50 L789.5,316.49 L791.0,316.47 L792.5,316.45 L794.0,316.43 L795.5,316.41 L797.0,316.39 L798.5,316.36 L800.0,316.34 L801.5,316.32 L803.0,316.30 L804.5,316.28 L806.0,316.25 L807.5,316.23 L809.0,316.20 L810.5,316.17 L812.0,316.14 L813.5,316.11 L815.0,316.08 L816.5,316.05 L818.0,316.02 L819.5,315.99 L821.0,315.96 L822.5,315.93 L824.0,315.90 L825.5,315.87 L827.0,315.84 L828.5,315.82 L830.0,315.79 L831.5,315.77 L833.0,315.75 L834.5,315.73 L836.0,315.71 L837.5,315.69 L839.0,315.67 L840.5,315.66 L842.0,315.64 L843.5,315.63 L845.0,315.61 L846.0,315.60" fill="none" stroke="#000080" stroke-width="4.0" stroke-linecap="round" stroke-linejoin="round"/>
<path d="M155.0,340.29 L156.5,340.48 L158.0,340.65 L159.5,340.81 L161.0,340.96 L162.5,341.11 L164.0,341.25 L165.5,341.41 L167.0,341.57 L168.5,341.74 L170.0,341.92 L171.5,342.12 L173.0,342.33 L174.5,342.56 L176.0,342.80 L177.5,343.06 L179.0,343.34 L180.5,343.64 L182.0,343.98 L183.5,344.35 L185.0,344.75 L186.5,345.18 L188.0,345.63 L189.5,346.09 L191.0,346.55 L192.5,347.00 L194.0,347.45 L195.5,347.89 L197.0,348.34 L198.5,348.79 L200.0,349.26 L201.5,349.75 L203.0,350.25 L204.5,350.77 L206.0,351.30 L207.5,351.85 L209.0,352.41 L210.5,352.99 L212.0,353.59 L213.5,354.19 L215.0,354.80 L216.5,355.40 L218.0,356.00 L219.5,356.60 L221.0,357.20 L222.5,357.79 L224.0,358.39 L225.5,358.98 L227.0,359.58 L228.5,360.18 L230.0,360.77 L231.5,361.36 L233.0,361.93 L234.5,362.48 L236.0,363.02 L237.5,363.55 L239.0,364.08 L240.5,364.60 L242.0,365.12 L243.5,365.65 L245.0,366.17 L246.5,366.69 L248.0,367.20 L249.5,367.69 L251.0,368.15 L252.5,368.60 L254.0,369.04 L255.5,369.47 L257.0,369.90 L258.5,370.34 L260.0,370.78 L261.5,371.22 L263.0,371.66 L264.5,372.08 L266.0,372.47 L267.5,372.84 L269.0,373.19 L270.5,373.52 L272.0,373.84 L273.5,374.15 L275.0,374.46 L276.5,374.76 L278.0,375.04 L279.5,375.31 L281.0,375.55 L282.5,375.78 L284.0,375.99 L285.5,376.19 L287.0,376.38 L288.5,376.56 L290.0,376.73 L291.5,376.87 L293.0,377.00 L294.5,377.14 L296.0,377.28 L297.5,377.43 L299.0,377.59 L300.5,377.77 L302.0,377.95 L303.5,378.14 L305.0,378.33 L306.5,378.52 L308.0,378.72 L309.5,378.91 L311.0,379.11 L312.5,379.30 L314.0,379.50 L315.5,379.69 L317.0,379.89 L318.5,380.08 L320.0,380.28 L321.5,380.47 L323.0,380.67 L324.5,380.86 L326.0,381.05 L327.5,381.23 L329.0,381.42 L330.5,381.61 L332.0,381.79 L333.5,381.97 L335.0,382.14 L336.5,382.32 L338.0,382.48 L339.5,382.65 L341.0,382.81 L342.5,382.97 L344.0,383.13 L345.5,383.28 L347.0,383.43 L348.5,383.58 L350.0,383.73 L351.5,383.88 L353.0,384.02 L354.5,384.16 L356.0,384.31 L357.5,384.45 L359.0,384.59 L360.5,384.73 L362.0,384.87 L363.5,385.02 L365.0,385.16 L366.5,385.31 L368.0,385.45 L369.5,385.60 L371.0,385.75 L372.5,385.91 L374.0,386.06 L375.5,386.22 L377.0,386.38 L378.5,386.54 L380.0,386.71 L381.5,386.87 L383.0,387.04 L384.5,387.21 L386.0,387.38 L387.5,387.55 L389.0,387.72 L390.5,387.89 L392.0,388.06 L393.5,388.23 L395.0,388.40 L396.5,388.57 L398.0,388.74 L399.5,388.91 L401.0,389.08 L402.5,389.24 L404.0,389.40 L405.5,389.57 L407.0,389.72 L408.5,389.88 L410.0,390.03 L411.5,390.19 L413.0,390.33 L414.5,390.48 L416.0,390.62 L417.5,390.76 L419.0,390.90 L420.5,391.03 L422.0,391.16 L423.5,391.30 L425.0,391.43 L426.5,391.56 L428.0,391.69 L429.5,391.81 L431.0,391.94 L432.5,392.07 L434.0,392.20 L435.5,392.32 L437.0,392.45 L438.5,392.58 L440.0,392.71 L441.5,392.84 L443.0,392.97 L444.5,393.10 L446.0,393.24 L447.5,393.38 L449.0,393.53 L450.5,393.69 L452.0,393.86 L453.5,394.05 L455.0,394.25 L456.5,394.47 L458.0,394.69 L459.5,394.90 L461.0,395.10 L462.5,395.27 L464.0,395.44 L465.5,395.60 L467.0,395.76 L468.5,395.92 L470.0,396.08 L471.5,396.24 L473.0,396.41 L474.5,396.57 L476.0,396.74 L477.5,396.90 L479.0,397.08 L480.5,397.27 L482.0,397.48 L483.5,397.73 L485.0,398.03 L486.5,398.40 L488.0,398.84 L489.5,399.36 L491.0,399.97 L492.5,400.64 L494.0,401.37 L495.5,402.16 L497.0,402.95 L498.5,403.74 L500.0,404.49 L501.5,405.19 L503.0,405.81 L504.5,406.33 L506.0,406.74 L507.5,407.03 L509.0,407.23 L510.5,407.36 L512.0,407.45 L513.5,407.50 L515.0,407.55 L516.5,407.59 L518.0,407.64 L519.5,407.70 L521.0,407.76 L522.5,407.83 L524.0,407.91 L525.5,407.98 L527.0,408.06 L528.5,408.14 L530.0,408.22 L531.5,408.30 L533.0,408.38 L534.5,408.46 L536.0,408.55 L537.5,408.63 L539.0,408.71 L540.5,408.79 L542.0,408.87 L543.5,408.95 L545.0,409.03 L546.5,409.11 L548.0,409.19 L549.5,409.28 L551.0,409.36 L552.5,409.44 L554.0,409.52 L555.5,409.60 L557.0,409.68 L558.5,409.76 L560.0,409.84 L561.5,409.92 L563.0,410.00 L564.5,410.08 L566.0,410.16 L567.5,410.24 L569.0,410.32 L570.5,410.39 L572.0,410.47 L573.5,410.55 L575.0,410.63 L576.5,410.71 L578.0,410.79 L579.5,410.86 L581.0,410.94 L582.5,411.02 L584.0,411.10 L585.5,411.18 L587.0,411.26 L588.5,411.35 L590.0,411.43 L591.5,411.51 L593.0,411.60 L594.5,411.69 L596.0,411.78 L597.5,411.87 L599.0,411.96 L600.5,412.05 L602.0,412.15 L603.5,412.24 L605.0,412.34 L606.5,412.44 L608.0,412.55 L609.5,412.66 L611.0,412.79 L612.5,412.93 L614.0,413.09 L615.5,413.30 L617.0,413.58 L618.5,413.93 L620.0,414.34 L621.5,414.74 L623.0,415.08 L624.5,415.34 L626.0,415.54 L627.5,415.70 L629.0,415.85 L630.5,415.98 L632.0,416.10 L633.5,416.23 L635.0,416.35 L636.5,416.47 L638.0,416.59 L639.5,416.71 L641.0,416.84 L642.5,416.97 L644.0,417.11 L645.5,417.26 L647.0,417.41 L648.5,417.57 L650.0,417.74 L651.5,417.91 L653.0,418.08 L654.5,418.26 L656.0,418.43 L657.5,418.61 L659.0,418.79 L660.5,418.97 L662.0,419.15 L663.5,419.33 L665.0,419.51 L666.5,419.69 L668.0,419.87 L669.5,420.05 L671.0,420.22 L672.5,420.40 L674.0,420.58 L675.5,420.75 L677.0,420.92 L678.5,421.08 L680.0,421.23 L681.5,421.35 L683.0,421.46 L684.5,421.56 L686.0,421.64 L687.5,421.70 L689.0,421.76 L690.5,421.82 L692.0,421.86 L693.5,421.91 L695.0,421.95 L696.5,421.99 L698.0,422.04 L699.5,422.09 L701.0,422.14 L702.5,422.18 L704.0,422.23 L705.5,422.28 L707.0,422.33 L708.5,422.38 L710.0,422.43 L711.5,422.48 L713.0,422.53 L714.5,422.58 L716.0,422.63 L717.5,422.68 L719.0,422.73 L720.5,422.79 L722.0,422.84 L723.5,422.89 L725.0,422.94 L726.5,423.00 L728.0,423.05 L729.5,423.10 L731.0,423.15 L732.5,423.21 L734.0,423.26 L735.5,423.31 L737.0,423.36 L738.5,423.41 L740.0,423.47 L741.5,423.52 L743.0,423.57 L744.5,423.62 L746.0,423.67 L747.5,423.71 L749.0,423.76 L750.5,423.81 L752.0,423.86 L753.5,423.90 L755.0,423.95 L756.5,424.00 L758.0,424.04 L759.5,424.09 L761.0,424.14 L762.5,424.18 L764.0,424.22 L765.5,424.27 L767.0,424.31 L768.5,424.34 L770.0,424.38 L771.5,424.41 L773.0,424.44 L774.5,424.46 L776.0,424.49 L777.5,424.51 L779.0,424.52 L780.5,424.54 L782.0,424.55 L783.5,424.56 L785.0,424.57 L786.5,424.57 L788.0,424.57 L789.5,424.57 L791.0,424.57 L792.5,424.57 L794.0,424.56 L795.5,424.55 L797.0,424.55 L798.5,424.54 L800.0,424.52 L801.5,424.51 L803.0,424.50 L804.5,424.48 L806.0,424.46 L807.5,424.44 L809.0,424.41 L810.5,424.39 L812.0,424.36 L813.5,424.33 L815.0,424.30 L816.5,424.27 L818.0,424.23 L819.5,424.20 L821.0,424.17 L822.5,424.14 L824.0,424.10 L825.5,424.07 L827.0,424.04 L828.5,424.02 L830.0,423.99 L831.5,423.97 L833.0,423.95 L834.5,423.93 L836.0,423.91 L837.5,423.89 L839.0,423.87 L840.5,423.86 L842.0,423.84 L843.5,423.83 L845.0,423.81 L846.0,423.80" fill="none" stroke="#808000" stroke-width="4.0" stroke-linecap="round" stroke-linejoin="round"/>
<path d="M155.0,453.39 L156.5,453.55 L158.0,453.69 L159.5,453.82 L161.0,453.95 L162.5,454.07 L164.0,454.19 L165.5,454.31 L167.0,454.45 L168.5,454.59 L170.0,454.74 L171.5,454.90 L173.0,455.07 L174.5,455.26 L176.0,455.46 L177.5,455.67 L179.0,455.90 L180.5,456.15 L182.0,456.43 L183.5,456.73 L185.0,457.06 L186.5,457.42 L188.0,457.79 L189.5,458.17 L191.0,458.55 L192.5,458.92 L194.0,459.29 L195.5,459.65 L197.0,460.02 L198.5,460.39 L200.0,460.78 L201.5,461.18 L203.0,461.59 L204.5,462.02 L206.0,462.45 L207.5,462.91 L209.0,463.37 L210.5,463.85 L212.0,464.34 L213.5,464.84 L215.0,465.34 L216.5,465.83 L218.0,466.33 L219.5,466.82 L221.0,467.31 L222.5,467.80 L224.0,468.29 L225.5,468.78 L227.0,469.28 L228.5,469.77 L230.0,470.26 L231.5,470.74 L233.0,471.21 L234.5,471.67 L236.0,472.11 L237.5,472.55 L239.0,472.98 L240.5,473.42 L242.0,473.85 L243.5,474.28 L245.0,474.71 L246.5,475.14 L248.0,475.56 L249.5,475.96 L251.0,476.34 L252.5,476.71 L254.0,477.07 L255.5,477.42 L257.0,477.78 L258.5,478.14 L260.0,478.50 L261.5,478.86 L263.0,479.22 L264.5,479.57 L266.0,479.89 L267.5,480.20 L269.0,480.49 L270.5,480.76 L272.0,481.02 L273.5,481.28 L275.0,481.53 L276.5,481.78 L278.0,482.01 L279.5,482.23 L281.0,482.43 L282.5,482.61 L284.0,482.79 L285.5,482.96 L287.0,483.12 L288.5,483.27 L290.0,483.41 L291.5,483.54 L293.0,483.66 L294.5,483.77 L296.0,483.88 L297.5,484.00 L299.0,484.12 L300.5,484.25 L302.0,484.37 L303.5,484.50 L305.0,484.63 L306.5,484.76 L308.0,484.89 L309.5,485.02 L311.0,485.15 L312.5,485.28 L314.0,485.41 L315.5,485.54 L317.0,485.67 L318.5,485.80 L320.0,485.93 L321.5,486.06 L323.0,486.19 L324.5,486.32 L326.0,486.45 L327.5,486.58 L329.0,486.71 L330.5,486.83 L332.0,486.96 L333.5,487.09 L335.0,487.21 L336.5,487.34 L338.0,487.47 L339.5,487.59 L341.0,487.71 L342.5,487.84 L344.0,487.96 L345.5,488.08 L347.0,488.20 L348.5,488.32 L350.0,488.44 L351.5,488.56 L353.0,488.68 L354.5,488.80 L356.0,488.92 L357.5,489.04 L359.0,489.16 L360.5,489.28 L362.0,489.40 L363.5,489.52 L365.0,489.64 L366.5,489.76 L368.0,489.88 L369.5,490.00 L371.0,490.12 L372.5,490.25 L374.0,490.37 L375.5,490.49 L377.0,490.61 L378.5,490.74 L380.0,490.86 L381.5,490.98 L383.0,491.11 L384.5,491.23 L386.0,491.36 L387.5,491.48 L389.0,491.60 L390.5,491.73 L392.0,491.85 L393.5,491.98 L395.0,492.10 L396.5,492.23 L398.0,492.36 L399.5,492.48 L401.0,492.61 L402.5,492.73 L404.0,492.86 L405.5,492.99 L407.0,493.11 L408.5,493.24 L410.0,493.36 L411.5,493.49 L413.0,493.62 L414.5,493.75 L416.0,493.87 L417.5,494.00 L419.0,494.13 L420.5,494.25 L422.0,494.38 L423.5,494.51 L425.0,494.64 L426.5,494.76 L428.0,494.89 L429.5,495.02 L431.0,495.15 L432.5,495.28 L434.0,495.41 L435.5,495.53 L437.0,495.66 L438.5,495.79 L440.0,495.92 L441.5,496.05 L443.0,496.19 L444.5,496.32 L446.0,496.45 L447.5,496.59 L449.0,496.72 L450.5,496.87 L452.0,497.02 L453.5,497.17 L455.0,497.34 L456.5,497.51 L458.0,497.67 L459.5,497.83 L461.0,497.97 L462.5,498.10 L464.0,498.21 L465.5,498.32 L467.0,498.43 L468.5,498.54 L470.0,498.65 L471.5,498.76 L473.0,498.87 L474.5,498.98 L476.0,499.09 L477.5,499.20 L479.0,499.32 L480.5,499.45 L482.0,499.60 L483.5,499.78 L485.0,500.01 L486.5,500.29 L488.0,500.64 L489.5,501.06 L491.0,501.56 L492.5,502.13 L494.0,502.76 L495.5,503.44 L497.0,504.14 L498.5,504.81 L500.0,505.43 L501.5,505.98 L503.0,506.45 L504.5,506.84 L506.0,507.14 L507.5,507.37 L509.0,507.54 L510.5,507.66 L512.0,507.75 L513.5,507.81 L515.0,507.87 L516.5,507.92 L518.0,507.97 L519.5,508.02 L521.0,508.07 L522.5,508.12 L524.0,508.17 L525.5,508.22 L527.0,508.27 L528.5,508.31 L530.0,508.36 L531.5,508.40 L533.0,508.45 L534.5,508.49 L536.0,508.54 L537.5,508.58 L539.0,508.63 L540.5,508.67 L542.0,508.72 L543.5,508.76 L545.0,508.81 L546.5,508.85 L548.0,508.90 L549.5,508.95 L551.0,509.00 L552.5,509.05 L554.0,509.11 L555.5,509.16 L557.0,509.22 L558.5,509.27 L560.0,509.33 L561.5,509.40 L563.0,509.46 L564.5,509.52 L566.0,509.58 L567.5,509.65 L569.0,509.72 L570.5,509.78 L572.0,509.85 L573.5,509.92 L575.0,509.99 L576.5,510.06 L578.0,510.13 L579.5,510.20 L581.0,510.27 L582.5,510.35 L584.0,510.42 L585.5,510.50 L587.0,510.58 L588.5,510.65 L590.0,510.74 L591.5,510.82 L593.0,510.90 L594.5,510.99 L596.0,511.08 L597.5,511.17 L599.0,511.27 L600.5,511.37 L602.0,511.48 L603.5,511.59 L605.0,511.71 L606.5,511.83 L608.0,511.96 L609.5,512.10 L611.0,512.25 L612.5,512.40 L614.0,512.57 L615.5,512.77 L617.0,513.01 L618.5,513.29 L620.0,513.60 L621.5,513.89 L623.0,514.14 L624.5,514.33 L626.0,514.48 L627.5,514.59 L629.0,514.69 L630.5,514.79 L632.0,514.88 L633.5,514.96 L635.0,515.05 L636.5,515.14 L638.0,515.23 L639.5,515.32 L641.0,515.42 L642.5,515.53 L644.0,515.65 L645.5,515.77 L647.0,515.90 L648.5,516.04 L650.0,516.19 L651.5,516.35 L653.0,516.51 L654.5,516.67 L656.0,516.84 L657.5,517.00 L659.0,517.17 L660.5,517.35 L662.0,517.52 L663.5,517.69 L665.0,517.86 L666.5,518.03 L668.0,518.19 L669.5,518.36 L671.0,518.52 L672.5,518.68 L674.0,518.83 L675.5,518.98 L677.0,519.13 L678.5,519.26 L680.0,519.38 L681.5,519.48 L683.0,519.57 L684.5,519.64 L686.0,519.70 L687.5,519.75 L689.0,519.79 L690.5,519.83 L692.0,519.86 L693.5,519.88 L695.0,519.91 L696.5,519.94 L698.0,519.96 L699.5,519.99 L701.0,520.02 L702.5,520.05 L704.0,520.08 L705.5,520.10 L707.0,520.13 L708.5,520.16 L710.0,520.19 L711.5,520.22 L713.0,520.25 L714.5,520.29 L716.0,520.32 L717.5,520.36 L719.0,520.39 L720.5,520.43 L722.0,520.47 L723.5,520.51 L725.0,520.54 L726.5,520.58 L728.0,520.62 L729.5,520.66 L731.0,520.69 L732.5,520.73 L734.0,520.77 L735.5,520.81 L737.0,520.85 L738.5,520.89 L740.0,520.93 L741.5,520.97 L743.0,521.01 L744.5,521.05 L746.0,521.09 L747.5,521.13 L749.0,521.17 L750.5,521.21 L752.0,521.26 L753.5,521.30 L755.0,521.35 L756.5,521.40 L758.0,521.46 L759.5,521.51 L761.0,521.57 L762.5,521.62 L764.0,521.67 L765.5,521.73 L767.0,521.78 L768.5,521.82 L770.0,521.87 L771.5,521.91 L773.0,521.94 L774.5,521.96 L776.0,521.98 L777.5,522.00 L779.0,522.01 L780.5,522.01 L782.0,522.01 L783.5,522.00 L785.0,521.99 L786.5,521.97 L788.0,521.95 L789.5,521.93 L791.0,521.91 L792.5,521.88 L794.0,521.86 L795.5,521.83 L797.0,521.80 L798.5,521.78 L800.0,521.75 L801.5,521.72 L803.0,521.70 L804.5,521.67 L806.0,521.65 L807.5,521.62 L809.0,521.59 L810.5,521.56 L812.0,521.53 L813.5,521.49 L815.0,521.46 L816.5,521.43 L818.0,521.40 L819.5,521.37 L821.0,521.34 L822.5,521.31 L824.0,521.28 L825.5,521.25 L827.0,521.23 L828.5,521.21 L830.0,521.20 L831.5,521.19 L833.0,521.19 L834.5,521.19 L836.0,521.20 L837.5,521.21 L839.0,521.22 L840.5,521.24 L842.0,521.25 L843.5,521.27 L845.0,521.29 L846.0,521.30" fill="none" stroke="#FF00FF" stroke-width="4.0" stroke-linecap="round" stroke-linejoin="round"/>
<path d="M155.0,568.60 L156.5,568.71 L158.0,568.81 L159.5,568.91 L161.0,569.00 L162.5,569.09 L164.0,569.18 L165.5,569.27 L167.0,569.37 L168.5,569.48 L170.0,569.59 L171.5,569.72 L173.0,569.84 L174.5,569.98 L176.0,570.13 L177.5,570.29 L179.0,570.46 L180.5,570.65 L182.0,570.85 L183.5,571.08 L185.0,571.32 L186.5,571.59 L188.0,571.86 L189.5,572.14 L191.0,572.42 L192.5,572.70 L194.0,572.97 L195.5,573.24 L197.0,573.52 L198.5,573.80 L200.0,574.09 L201.5,574.38 L203.0,574.69 L204.5,575.01 L206.0,575.34 L207.5,575.67 L209.0,576.02 L210.5,576.37 L212.0,576.74 L213.5,577.11 L215.0,577.48 L216.5,577.85 L218.0,578.21 L219.5,578.58 L221.0,578.95 L222.5,579.31 L224.0,579.68 L225.5,580.04 L227.0,580.41 L228.5,580.77 L230.0,581.14 L231.5,581.49 L233.0,581.84 L234.5,582.18 L236.0,582.51 L237.5,582.84 L239.0,583.16 L240.5,583.48 L242.0,583.80 L243.5,584.13 L245.0,584.45 L246.5,584.76 L248.0,585.07 L249.5,585.37 L251.0,585.66 L252.5,585.93 L254.0,586.19 L255.5,586.46 L257.0,586.72 L258.5,586.99 L260.0,587.26 L261.5,587.53 L263.0,587.80 L264.5,588.05 L266.0,588.30 L267.5,588.53 L269.0,588.74 L270.5,588.94 L272.0,589.14 L273.5,589.33 L275.0,589.51 L276.5,589.70 L278.0,589.87 L279.5,590.03 L281.0,590.18 L282.5,590.32 L284.0,590.45 L285.5,590.58 L287.0,590.70 L288.5,590.81 L290.0,590.91 L291.5,591.00 L293.0,591.09 L294.5,591.17 L296.0,591.26 L297.5,591.34 L299.0,591.44 L300.5,591.54 L302.0,591.64 L303.5,591.74 L305.0,591.84 L306.5,591.94 L308.0,592.05 L309.5,592.15 L311.0,592.25 L312.5,592.36 L314.0,592.46 L315.5,592.56 L317.0,592.67 L318.5,592.77 L320.0,592.88 L321.5,592.98 L323.0,593.09 L324.5,593.19 L326.0,593.30 L327.5,593.41 L329.0,593.51 L330.5,593.62 L332.0,593.73 L333.5,593.83 L335.0,593.94 L336.5,594.05 L338.0,594.16 L339.5,594.27 L341.0,594.38 L342.5,594.49 L344.0,594.61 L345.5,594.72 L347.0,594.83 L348.5,594.95 L350.0,595.06 L351.5,595.18 L353.0,595.30 L354.5,595.41 L356.0,595.53 L357.5,595.64 L359.0,595.76 L360.5,595.87 L362.0,595.99 L363.5,596.10 L365.0,596.21 L366.5,596.33 L368.0,596.44 L369.5,596.55 L371.0,596.66 L372.5,596.76 L374.0,596.87 L375.5,596.98 L377.0,597.08 L378.5,597.18 L380.0,597.28 L381.5,597.38 L383.0,597.49 L384.5,597.58 L386.0,597.68 L387.5,597.78 L389.0,597.88 L390.5,597.98 L392.0,598.07 L393.5,598.17 L395.0,598.26 L396.5,598.36 L398.0,598.45 L399.5,598.55 L401.0,598.64 L402.5,598.74 L404.0,598.83 L405.5,598.92 L407.0,599.02 L408.5,599.11 L410.0,599.20 L411.5,599.29 L413.0,599.38 L414.5,599.47 L416.0,599.56 L417.5,599.65 L419.0,599.74 L420.5,599.83 L422.0,599.91 L423.5,600.00 L425.0,600.08 L426.5,600.17 L428.0,600.25 L429.5,600.34 L431.0,600.42 L432.5,600.51 L434.0,600.59 L435.5,600.68 L437.0,600.77 L438.5,600.85 L440.0,600.94 L441.5,601.03 L443.0,601.12 L444.5,601.22 L446.0,601.31 L447.5,601.42 L449.0,601.53 L450.5,601.65 L452.0,601.79 L453.5,601.95 L455.0,602.13 L456.5,602.33 L458.0,602.52 L459.5,602.70 L461.0,602.86 L462.5,602.99 L464.0,603.10 L465.5,603.21 L467.0,603.31 L468.5,603.40 L470.0,603.48 L471.5,603.56 L473.0,603.64 L474.5,603.70 L476.0,603.76 L477.5,603.82 L479.0,603.88 L480.5,603.94 L482.0,604.03 L483.5,604.14 L485.0,604.29 L486.5,604.50 L488.0,604.75 L489.5,605.07 L491.0,605.43 L492.5,605.84 L494.0,606.28 L495.5,606.75 L497.0,607.23 L498.5,607.71 L500.0,608.18 L501.5,608.63 L503.0,609.03 L504.5,609.38 L506.0,609.66 L507.5,609.86 L509.0,610.00 L510.5,610.10 L512.0,610.16 L513.5,610.21 L515.0,610.24 L516.5,610.27 L518.0,610.30 L519.5,610.34 L521.0,610.38 L522.5,610.42 L524.0,610.46 L525.5,610.50 L527.0,610.54 L528.5,610.58 L530.0,610.62 L531.5,610.66 L533.0,610.70 L534.5,610.73 L536.0,610.77 L537.5,610.81 L539.0,610.85 L540.5,610.89 L542.0,610.93 L543.5,610.97 L545.0,611.01 L546.5,611.05 L548.0,611.09 L549.5,611.13 L551.0,611.17 L552.5,611.21 L554.0,611.25 L555.5,611.29 L557.0,611.34 L558.5,611.38 L560.0,611.42 L561.5,611.47 L563.0,611.51 L564.5,611.56 L566.0,611.60 L567.5,611.65 L569.0,611.69 L570.5,611.74 L572.0,611.79 L573.5,611.83 L575.0,611.88 L576.5,611.93 L578.0,611.97 L579.5,612.02 L581.0,612.07 L582.5,612.12 L584.0,612.17 L585.5,612.22 L587.0,612.27 L588.5,612.32 L590.0,612.37 L591.5,612.42 L593.0,612.48 L594.5,612.53 L596.0,612.59 L597.5,612.64 L599.0,612.70 L600.5,612.76 L602.0,612.83 L603.5,612.89 L605.0,612.96 L606.5,613.03 L608.0,613.10 L609.5,613.18 L611.0,613.26 L612.5,613.35 L614.0,613.46 L615.5,613.59 L617.0,613.76 L618.5,613.98 L620.0,614.22 L621.5,614.46 L623.0,614.67 L624.5,614.84 L626.0,614.97 L627.5,615.09 L629.0,615.20 L630.5,615.30 L632.0,615.39 L633.5,615.49 L635.0,615.58 L636.5,615.67 L638.0,615.77 L639.5,615.86 L641.0,615.96 L642.5,616.06 L644.0,616.16 L645.5,616.27 L647.0,616.38 L648.5,616.50 L650.0,616.61 L651.5,616.74 L653.0,616.86 L654.5,616.98 L656.0,617.11 L657.5,617.23 L659.0,617.36 L660.5,617.49 L662.0,617.61 L663.5,617.73 L665.0,617.86 L666.5,617.98 L668.0,618.09 L669.5,618.20 L671.0,618.30 L672.5,618.40 L674.0,618.49 L675.5,618.57 L677.0,618.64 L678.5,618.69 L680.0,618.73 L681.5,618.76 L683.0,618.79 L684.5,618.81 L686.0,618.82 L687.5,618.83 L689.0,618.83 L690.5,618.83 L692.0,618.83 L693.5,618.82 L695.0,618.82 L696.5,618.81 L698.0,618.80 L699.5,618.80 L701.0,618.79 L702.5,618.79 L704.0,618.78 L705.5,618.77 L707.0,618.76 L708.5,618.76 L710.0,618.76 L711.5,618.77 L713.0,618.78 L714.5,618.80 L716.0,618.82 L717.5,618.84 L719.0,618.87 L720.5,618.89 L722.0,618.92 L723.5,618.95 L725.0,618.98 L726.5,619.01 L728.0,619.05 L729.5,619.08 L731.0,619.11 L732.5,619.14 L734.0,619.17 L735.5,619.21 L737.0,619.24 L738.5,619.27 L740.0,619.30 L741.5,619.33 L743.0,619.36 L744.5,619.39 L746.0,619.42 L747.5,619.45 L749.0,619.48 L750.5,619.50 L752.0,619.53 L753.5,619.56 L755.0,619.58 L756.5,619.61 L758.0,619.64 L759.5,619.66 L761.0,619.69 L762.5,619.71 L764.0,619.74 L765.5,619.76 L767.0,619.79 L768.5,619.81 L770.0,619.83 L771.5,619.85 L773.0,619.87 L774.5,619.89 L776.0,619.91 L777.5,619.93 L779.0,619.95 L780.5,619.96 L782.0,619.97 L783.5,619.99 L785.0,620.00 L786.5,620.00 L788.0,620.01 L789.5,620.01 L791.0,620.02 L792.5,620.02 L794.0,620.02 L795.5,620.02 L797.0,620.01 L798.5,620.01 L800.0,620.01 L801.5,620.00 L803.0,620.00 L804.5,619.99 L806.0,619.98 L807.5,619.97 L809.0,619.97 L810.5,619.96 L812.0,619.95 L813.5,619.94 L815.0,619.93 L816.5,619.92 L818.0,619.91 L819.5,619.91 L821.0,619.90 L822.5,619.89 L824.0,619.88 L825.5,619.87 L827.0,619.86 L828.5,619.85 L830.0,619.84 L831.5,619.83 L833.0,619.81 L834.5,619.80 L836.0,619.79 L837.5,619.78 L839.0,619.76 L840.5,619.75 L842.0,619.74 L843.5,619.72 L845.0,619.71 L846.0,619.70" fill="none" stroke="#0000FF" stroke-width="4.0" stroke-linecap="round" stroke-linejoin="round"/>
<path d="M155.0,662.09 L156.5,662.30 L158.0,662.49 L159.5,662.67 L161.0,662.83 L162.5,662.99 L164.0,663.15 L165.5,663.32 L167.0,663.50 L168.5,663.69 L170.0,663.90 L171.5,664.11 L173.0,664.35 L174.5,664.60 L176.0,664.87 L177.5,665.16 L179.0,665.47 L180.5,665.81 L182.0,666.18 L183.5,666.58 L185.0,667.03 L186.5,667.51 L188.0,668.01 L189.5,668.51 L191.0,669.02 L192.5,669.52 L194.0,670.01 L195.5,670.50 L197.0,670.99 L198.5,671.50 L200.0,672.02 L201.5,672.55 L203.0,673.11 L204.5,673.68 L206.0,674.27 L207.5,674.88 L209.0,675.50 L210.5,676.15 L212.0,676.81 L213.5,677.48 L215.0,678.15 L216.5,678.82 L218.0,679.49 L219.5,680.15 L221.0,680.81 L222.5,681.46 L224.0,682.12 L225.5,682.78 L227.0,683.45 L228.5,684.11 L230.0,684.76 L231.5,685.41 L233.0,686.04 L234.5,686.65 L236.0,687.25 L237.5,687.84 L239.0,688.42 L240.5,689.00 L242.0,689.58 L243.5,690.16 L245.0,690.74 L246.5,691.32 L248.0,691.88 L249.5,692.42 L251.0,692.94 L252.5,693.43 L254.0,693.92 L255.5,694.39 L257.0,694.87 L258.5,695.35 L260.0,695.84 L261.5,696.33 L263.0,696.81 L264.5,697.28 L266.0,697.71 L267.5,698.12 L269.0,698.51 L270.5,698.87 L272.0,699.22 L273.5,699.57 L275.0,699.91 L276.5,700.24 L278.0,700.55 L279.5,700.85 L281.0,701.12 L282.5,701.37 L284.0,701.61 L285.5,701.83 L287.0,702.05 L288.5,702.25 L290.0,702.43 L291.5,702.59 L293.0,702.74 L294.5,702.89 L296.0,703.04 L297.5,703.20 L299.0,703.38 L300.5,703.57 L302.0,703.77 L303.5,703.97 L305.0,704.17 L306.5,704.38 L308.0,704.59 L309.5,704.79 L311.0,705.00 L312.5,705.21 L314.0,705.42 L315.5,705.63 L317.0,705.84 L318.5,706.05 L320.0,706.26 L321.5,706.47 L323.0,706.68 L324.5,706.88 L326.0,707.09 L327.5,707.30 L329.0,707.50 L330.5,707.70 L332.0,707.91 L333.5,708.11 L335.0,708.31 L336.5,708.51 L338.0,708.70 L339.5,708.90 L341.0,709.09 L342.5,709.28 L344.0,709.47 L345.5,709.66 L347.0,709.84 L348.5,710.03 L350.0,710.21 L351.5,710.40 L353.0,710.58 L354.5,710.77 L356.0,710.95 L357.5,711.13 L359.0,711.31 L360.5,711.50 L362.0,711.68 L363.5,711.86 L365.0,712.04 L366.5,712.23 L368.0,712.41 L369.5,712.59 L371.0,712.78 L372.5,712.96 L374.0,713.15 L375.5,713.34 L377.0,713.53 L378.5,713.72 L380.0,713.91 L381.5,714.11 L383.0,714.30 L384.5,714.50 L386.0,714.69 L387.5,714.89 L389.0,715.08 L390.5,715.28 L392.0,715.48 L393.5,715.67 L395.0,715.86 L396.5,716.06 L398.0,716.25 L399.5,716.44 L401.0,716.63 L402.5,716.81 L404.0,717.00 L405.5,717.18 L407.0,717.36 L408.5,717.54 L410.0,717.71 L411.5,717.88 L413.0,718.05 L414.5,718.22 L416.0,718.38 L417.5,718.54 L419.0,718.70 L420.5,718.85 L422.0,719.01 L423.5,719.16 L425.0,719.31 L426.5,719.46 L428.0,719.61 L429.5,719.75 L431.0,719.90 L432.5,720.05 L434.0,720.19 L435.5,720.33 L437.0,720.48 L438.5,720.62 L440.0,720.76 L441.5,720.90 L443.0,721.05 L444.5,721.19 L446.0,721.33 L447.5,721.48 L449.0,721.62 L450.5,721.76 L452.0,721.91 L453.5,722.04 L455.0,722.18 L456.5,722.31 L458.0,722.44 L459.5,722.56 L461.0,722.68 L462.5,722.79 L464.0,722.91 L465.5,723.02 L467.0,723.13 L468.5,723.24 L470.0,723.35 L471.5,723.46 L473.0,723.56 L474.5,723.66 L476.0,723.75 L477.5,723.85 L479.0,723.95 L480.5,724.06 L482.0,724.21 L483.5,724.41 L485.0,724.68 L486.5,725.05 L488.0,725.55 L489.5,726.19 L491.0,726.97 L492.5,727.87 L494.0,728.85 L495.5,729.85 L497.0,730.83 L498.5,731.74 L500.0,732.56 L501.5,733.30 L503.0,733.95 L504.5,734.50 L506.0,734.94 L507.5,735.27 L509.0,735.53 L510.5,735.74 L512.0,735.92 L513.5,736.08 L515.0,736.22 L516.5,736.35 L518.0,736.48 L519.5,736.60 L521.0,736.72 L522.5,736.84 L524.0,736.95 L525.5,737.07 L527.0,737.18 L528.5,737.29 L530.0,737.40 L531.5,737.51 L533.0,737.62 L534.5,737.73 L536.0,737.84 L537.5,737.95 L539.0,738.05 L540.5,738.16 L542.0,738.26 L543.5,738.36 L545.0,738.46 L546.5,738.56 L548.0,738.65 L549.5,738.75 L551.0,738.84 L552.5,738.93 L554.0,739.02 L555.5,739.10 L557.0,739.18 L558.5,739.26 L560.0,739.33 L561.5,739.40 L563.0,739.46 L564.5,739.52 L566.0,739.58 L567.5,739.63 L569.0,739.68 L570.5,739.72 L572.0,739.77 L573.5,739.81 L575.0,739.85 L576.5,739.89 L578.0,739.93 L579.5,739.97 L581.0,740.00 L582.5,740.04 L584.0,740.08 L585.5,740.12 L587.0,740.16 L588.5,740.20 L590.0,740.25 L591.5,740.30 L593.0,740.36 L594.5,740.42 L596.0,740.49 L597.5,740.56 L599.0,740.64 L600.5,740.73 L602.0,740.81 L603.5,740.91 L605.0,741.01 L606.5,741.12 L608.0,741.24 L609.5,741.38 L611.0,741.53 L612.5,741.71 L614.0,741.93 L615.5,742.22 L617.0,742.62 L618.5,743.15 L620.0,743.76 L621.5,744.36 L623.0,744.86 L624.5,745.24 L626.0,745.52 L627.5,745.74 L629.0,745.93 L630.5,746.10 L632.0,746.26 L633.5,746.41 L635.0,746.56 L636.5,746.71 L638.0,746.86 L639.5,747.00 L641.0,747.16 L642.5,747.32 L644.0,747.48 L645.5,747.65 L647.0,747.83 L648.5,748.01 L650.0,748.20 L651.5,748.39 L653.0,748.58 L654.5,748.77 L656.0,748.97 L657.5,749.16 L659.0,749.36 L660.5,749.56 L662.0,749.75 L663.5,749.95 L665.0,750.15 L666.5,750.34 L668.0,750.54 L669.5,750.73 L671.0,750.93 L672.5,751.13 L674.0,751.33 L675.5,751.53 L677.0,751.73 L678.5,751.91 L680.0,752.08 L681.5,752.23 L683.0,752.36 L684.5,752.46 L686.0,752.55 L687.5,752.62 L689.0,752.69 L690.5,752.74 L692.0,752.79 L693.5,752.84 L695.0,752.88 L696.5,752.91 L698.0,752.95 L699.5,752.98 L701.0,753.01 L702.5,753.03 L704.0,753.05 L705.5,753.06 L707.0,753.07 L708.5,753.08 L710.0,753.10 L711.5,753.12 L713.0,753.15 L714.5,753.19 L716.0,753.23 L717.5,753.27 L719.0,753.32 L720.5,753.37 L722.0,753.42 L723.5,753.47 L725.0,753.52 L726.5,753.57 L728.0,753.62 L729.5,753.67 L731.0,753.72 L732.5,753.78 L734.0,753.83 L735.5,753.88 L737.0,753.94 L738.5,753.99 L740.0,754.04 L741.5,754.10 L743.0,754.15 L744.5,754.20 L746.0,754.25 L747.5,754.31 L749.0,754.36 L750.5,754.41 L752.0,754.47 L753.5,754.52 L755.0,754.58 L756.5,754.64 L758.0,754.70 L759.5,754.76 L761.0,754.82 L762.5,754.88 L764.0,754.94 L765.5,754.99 L767.0,755.05 L768.5,755.10 L770.0,755.15 L771.5,755.19 L773.0,755.23 L774.5,755.26 L776.0,755.28 L777.5,755.30 L779.0,755.32 L780.5,755.33 L782.0,755.33 L783.5,755.33 L785.0,755.33 L786.5,755.32 L788.0,755.31 L789.5,755.30 L791.0,755.28 L792.5,755.26 L794.0,755.24 L795.5,755.22 L797.0,755.20 L798.5,755.17 L800.0,755.15 L801.5,755.12 L803.0,755.10 L804.5,755.07 L806.0,755.03 L807.5,755.00 L809.0,754.96 L810.5,754.92 L812.0,754.88 L813.5,754.83 L815.0,754.79 L816.5,754.74 L818.0,754.70 L819.5,754.65 L821.0,754.61 L822.5,754.57 L824.0,754.52 L825.5,754.49 L827.0,754.45 L828.5,754.42 L830.0,754.40 L831.5,754.38 L833.0,754.37 L834.5,754.36 L836.0,754.35 L837.5,754.35 L839.0,754.36 L840.5,754.37 L842.0,754.37 L843.5,754.38 L845.0,754.39 L846.0,754.40" fill="none" stroke="#00F500" stroke-width="4.0" stroke-linecap="round" stroke-linejoin="round"/>
<path d="M155.0,767.09 L156.5,767.27 L158.0,767.43 L159.5,767.58 L161.0,767.72 L162.5,767.86 L164.0,768.00 L165.5,768.14 L167.0,768.30 L168.5,768.46 L170.0,768.63 L171.5,768.82 L173.0,769.01 L174.5,769.23 L176.0,769.46 L177.5,769.70 L179.0,769.97 L180.5,770.25 L182.0,770.57 L183.5,770.92 L185.0,771.30 L186.5,771.71 L188.0,772.13 L189.5,772.57 L191.0,773.00 L192.5,773.42 L194.0,773.84 L195.5,774.26 L197.0,774.69 L198.5,775.12 L200.0,775.56 L201.5,776.02 L203.0,776.49 L204.5,776.98 L206.0,777.48 L207.5,777.99 L209.0,778.53 L210.5,779.08 L212.0,779.64 L213.5,780.21 L215.0,780.78 L216.5,781.35 L218.0,781.92 L219.5,782.49 L221.0,783.05 L222.5,783.61 L224.0,784.17 L225.5,784.74 L227.0,785.30 L228.5,785.87 L230.0,786.42 L231.5,786.97 L233.0,787.51 L234.5,788.03 L236.0,788.54 L237.5,789.04 L239.0,789.54 L240.5,790.03 L242.0,790.53 L243.5,791.03 L245.0,791.52 L246.5,792.01 L248.0,792.49 L249.5,792.95 L251.0,793.39 L252.5,793.81 L254.0,794.23 L255.5,794.63 L257.0,795.04 L258.5,795.45 L260.0,795.87 L261.5,796.28 L263.0,796.70 L264.5,797.09 L266.0,797.47 L267.5,797.82 L269.0,798.14 L270.5,798.45 L272.0,798.75 L273.5,799.05 L275.0,799.34 L276.5,799.62 L278.0,799.89 L279.5,800.14 L281.0,800.37 L282.5,800.59 L284.0,800.79 L285.5,800.98 L287.0,801.16 L288.5,801.33 L290.0,801.49 L291.5,801.63 L293.0,801.76 L294.5,801.89 L296.0,802.02 L297.5,802.16 L299.0,802.30 L300.5,802.46 L302.0,802.62 L303.5,802.78 L305.0,802.94 L306.5,803.11 L308.0,803.28 L309.5,803.44 L311.0,803.61 L312.5,803.78 L314.0,803.95 L315.5,804.12 L317.0,804.28 L318.5,804.45 L320.0,804.62 L321.5,804.79 L323.0,804.95 L324.5,805.12 L326.0,805.29 L327.5,805.45 L329.0,805.62 L330.5,805.78 L332.0,805.94 L333.5,806.11 L335.0,806.27 L336.5,806.42 L338.0,806.58 L339.5,806.74 L341.0,806.89 L342.5,807.05 L344.0,807.20 L345.5,807.36 L347.0,807.51 L348.5,807.66 L350.0,807.81 L351.5,807.96 L353.0,808.11 L354.5,808.26 L356.0,808.41 L357.5,808.56 L359.0,808.71 L360.5,808.86 L362.0,809.00 L363.5,809.15 L365.0,809.30 L366.5,809.44 L368.0,809.59 L369.5,809.73 L371.0,809.87 L372.5,810.02 L374.0,810.16 L375.5,810.30 L377.0,810.45 L378.5,810.59 L380.0,810.73 L381.5,810.87 L383.0,811.01 L384.5,811.15 L386.0,811.29 L387.5,811.43 L389.0,811.56 L390.5,811.70 L392.0,811.84 L393.5,811.98 L395.0,812.11 L396.5,812.25 L398.0,812.38 L399.5,812.52 L401.0,812.65 L402.5,812.79 L404.0,812.92 L405.5,813.06 L407.0,813.19 L408.5,813.32 L410.0,813.46 L411.5,813.59 L413.0,813.72 L414.5,813.85 L416.0,813.99 L417.5,814.12 L419.0,814.24 L420.5,814.37 L422.0,814.50 L423.5,814.63 L425.0,814.76 L426.5,814.89 L428.0,815.01 L429.5,815.14 L431.0,815.27 L432.5,815.39 L434.0,815.52 L435.5,815.65 L437.0,815.78 L438.5,815.90 L440.0,816.03 L441.5,816.16 L443.0,816.29 L444.5,816.42 L446.0,816.55 L447.5,816.69 L449.0,816.82 L450.5,816.97 L452.0,817.12 L453.5,817.27 L455.0,817.44 L456.5,817.61 L458.0,817.77 L459.5,817.93 L461.0,818.07 L462.5,818.20 L464.0,818.32 L465.5,818.43 L467.0,818.54 L468.5,818.65 L470.0,818.75 L471.5,818.86 L473.0,818.96 L474.5,819.06 L476.0,819.16 L477.5,819.26 L479.0,819.37 L480.5,819.48 L482.0,819.62 L483.5,819.79 L485.0,820.01 L486.5,820.28 L488.0,820.62 L489.5,821.05 L491.0,821.56 L492.5,822.18 L494.0,822.88 L495.5,823.65 L497.0,824.44 L498.5,825.22 L500.0,825.94 L501.5,826.59 L503.0,827.15 L504.5,827.62 L506.0,827.99 L507.5,828.27 L509.0,828.49 L510.5,828.65 L512.0,828.78 L513.5,828.88 L515.0,828.97 L516.5,829.04 L518.0,829.11 L519.5,829.18 L521.0,829.25 L522.5,829.32 L524.0,829.39 L525.5,829.45 L527.0,829.52 L528.5,829.58 L530.0,829.64 L531.5,829.70 L533.0,829.75 L534.5,829.81 L536.0,829.87 L537.5,829.92 L539.0,829.98 L540.5,830.04 L542.0,830.09 L543.5,830.15 L545.0,830.21 L546.5,830.27 L548.0,830.32 L549.5,830.38 L551.0,830.45 L552.5,830.51 L554.0,830.57 L555.5,830.64 L557.0,830.70 L558.5,830.77 L560.0,830.84 L561.5,830.91 L563.0,830.98 L564.5,831.06 L566.0,831.13 L567.5,831.21 L569.0,831.28 L570.5,831.36 L572.0,831.44 L573.5,831.51 L575.0,831.59 L576.5,831.67 L578.0,831.75 L579.5,831.83 L581.0,831.92 L582.5,832.00 L584.0,832.08 L585.5,832.16 L587.0,832.25 L588.5,832.33 L590.0,832.42 L591.5,832.51 L593.0,832.60 L594.5,832.69 L596.0,832.78 L597.5,832.87 L599.0,832.96 L600.5,833.05 L602.0,833.15 L603.5,833.24 L605.0,833.34 L606.5,833.44 L608.0,833.55 L609.5,833.66 L611.0,833.79 L612.5,833.93 L614.0,834.09 L615.5,834.30 L617.0,834.58 L618.5,834.94 L620.0,835.35 L621.5,835.75 L623.0,836.08 L624.5,836.33 L626.0,836.52 L627.5,836.66 L629.0,836.79 L630.5,836.90 L632.0,837.01 L633.5,837.11 L635.0,837.22 L636.5,837.32 L638.0,837.42 L639.5,837.52 L641.0,837.62 L642.5,837.73 L644.0,837.85 L645.5,837.97 L647.0,838.09 L648.5,838.22 L650.0,838.35 L651.5,838.48 L653.0,838.61 L654.5,838.75 L656.0,838.89 L657.5,839.02 L659.0,839.16 L660.5,839.30 L662.0,839.44 L663.5,839.59 L665.0,839.73 L666.5,839.88 L668.0,840.02 L669.5,840.18 L671.0,840.33 L672.5,840.50 L674.0,840.68 L675.5,840.87 L677.0,841.07 L678.5,841.27 L680.0,841.45 L681.5,841.61 L683.0,841.75 L684.5,841.87 L686.0,841.97 L687.5,842.06 L689.0,842.14 L690.5,842.21 L692.0,842.28 L693.5,842.34 L695.0,842.40 L696.5,842.46 L698.0,842.52 L699.5,842.58 L701.0,842.64 L702.5,842.71 L704.0,842.77 L705.5,842.84 L707.0,842.90 L708.5,842.95 L710.0,843.01 L711.5,843.07 L713.0,843.12 L714.5,843.18 L716.0,843.23 L717.5,843.29 L719.0,843.34 L720.5,843.40 L722.0,843.45 L723.5,843.50 L725.0,843.56 L726.5,843.61 L728.0,843.67 L729.5,843.72 L731.0,843.77 L732.5,843.83 L734.0,843.88 L735.5,843.93 L737.0,843.98 L738.5,844.03 L740.0,844.08 L741.5,844.13 L743.0,844.18 L744.5,844.23 L746.0,844.27 L747.5,844.32 L749.0,844.36 L750.5,844.41 L752.0,844.45 L753.5,844.49 L755.0,844.53 L756.5,844.57 L758.0,844.61 L759.5,844.64 L761.0,844.68 L762.5,844.71 L764.0,844.74 L765.5,844.77 L767.0,844.80 L768.5,844.82 L770.0,844.84 L771.5,844.86 L773.0,844.87 L774.5,844.88 L776.0,844.89 L777.5,844.90 L779.0,844.90 L780.5,844.89 L782.0,844.88 L783.5,844.87 L785.0,844.86 L786.5,844.84 L788.0,844.82 L789.5,844.80 L791.0,844.77 L792.5,844.75 L794.0,844.72 L795.5,844.70 L797.0,844.68 L798.5,844.66 L800.0,844.64 L801.5,844.62 L803.0,844.60 L804.5,844.59 L806.0,844.57 L807.5,844.56 L809.0,844.54 L810.5,844.53 L812.0,844.52 L813.5,844.51 L815.0,844.49 L816.5,844.48 L818.0,844.47 L819.5,844.46 L821.0,844.45 L822.5,844.44 L824.0,844.43 L825.5,844.42 L827.0,844.41 L828.5,844.41 L830.0,844.40 L831.5,844.39 L833.0,844.39 L834.5,844.39 L836.0,844.39 L837.5,844.39 L839.0,844.39 L840.5,844.39 L842.0,844.39 L843.5,844.40 L845.0,844.40 L846.0,844.40" fill="none" stroke="#FF0000" stroke-width="4.0" stroke-linecap="round" stroke-linejoin="round"/>
<rect x="731.4" y="6.2" width="198.60" height="34.30" fill="#fff" stroke="#383838" stroke-width="1.6"/>
<line x1="755.0" y1="25.5" x2="840.7" y2="25.5" stroke="#808080" stroke-width="4.0" stroke-linecap="round"/>
<text transform="translate(852.19,35.00) scale(1.3627,1)" font-size="27.3" fill="#000" style="font-family:'Liberation Sans',sans-serif;font-weight:bold">TF7</text>
<rect x="729.0" y="111.8" width="198.30" height="35.20" fill="#fff" stroke="#383838" stroke-width="1.6"/>
<line x1="751.5" y1="131.4" x2="838.0" y2="131.4" stroke="#FF0080" stroke-width="4.0" stroke-linecap="round"/>
<text transform="translate(849.59,141.10) scale(1.3607,1)" font-size="27.3" fill="#000" style="font-family:'Liberation Sans',sans-serif;font-weight:bold">TF6</text>
<rect x="731.4" y="222.5" width="198.80" height="35.00" fill="#fff" stroke="#383838" stroke-width="1.6"/>
<line x1="755.0" y1="242.7" x2="841.2" y2="242.7" stroke="#000080" stroke-width="4.0" stroke-linecap="round"/>
<text transform="translate(852.60,251.50) scale(1.3397,1)" font-size="27.3" fill="#000" style="font-family:'Liberation Sans',sans-serif;font-weight:bold">TF5</text>
<rect x="734.8" y="327.1" width="197.00" height="34.10" fill="#fff" stroke="#383838" stroke-width="1.6"/>
<line x1="757.9" y1="345.7" x2="843.5" y2="345.7" stroke="#808000" stroke-width="4.0" stroke-linecap="round"/>
<text transform="translate(855.50,356.00) scale(1.3326,1)" font-size="27.3" fill="#000" style="font-family:'Liberation Sans',sans-serif;font-weight:bold">TF4</text>
<rect x="731.4" y="435.0" width="198.80" height="35.30" fill="#fff" stroke="#383838" stroke-width="1.6"/>
<line x1="755.0" y1="454.3" x2="841.2" y2="454.3" stroke="#FF00FF" stroke-width="4.0" stroke-linecap="round"/>
<text transform="translate(852.60,464.20) scale(1.3459,1)" font-size="27.3" fill="#000" style="font-family:'Liberation Sans',sans-serif;font-weight:bold">TF3</text>
<rect x="729.1" y="545.5" width="198.20" height="34.50" fill="#fff" stroke="#383838" stroke-width="1.6"/>
<line x1="752.0" y1="564.8" x2="838.0" y2="564.8" stroke="#0000FF" stroke-width="4.0" stroke-linecap="round"/>
<text transform="translate(849.59,574.80) scale(1.3638,1)" font-size="27.3" fill="#000" style="font-family:'Liberation Sans',sans-serif;font-weight:bold">TF2</text>
<rect x="731.8" y="653.5" width="198.40" height="35.00" fill="#fff" stroke="#383838" stroke-width="1.6"/>
<line x1="755.0" y1="672.8" x2="841.2" y2="672.8" stroke="#00F500" stroke-width="4.0" stroke-linecap="round"/>
<text transform="translate(852.61,682.80) scale(1.2912,1)" font-size="27.3" fill="#000" style="font-family:'Liberation Sans',sans-serif;font-weight:bold">TF1</text>
<rect x="650.2" y="760.2" width="278.90" height="34.80" fill="#fff" stroke="#383838" stroke-width="1.6"/>
<line x1="681.7" y1="780.0" x2="766.6" y2="780.0" stroke="#FF0000" stroke-width="4.0" stroke-linecap="round"/>
<text transform="translate(778.04,789.30) scale(1.4589,1)" font-size="26.0" fill="#000" style="font-family:'Liberation Sans',sans-serif;font-weight:bold">Control</text>
</svg>
</body></html>
